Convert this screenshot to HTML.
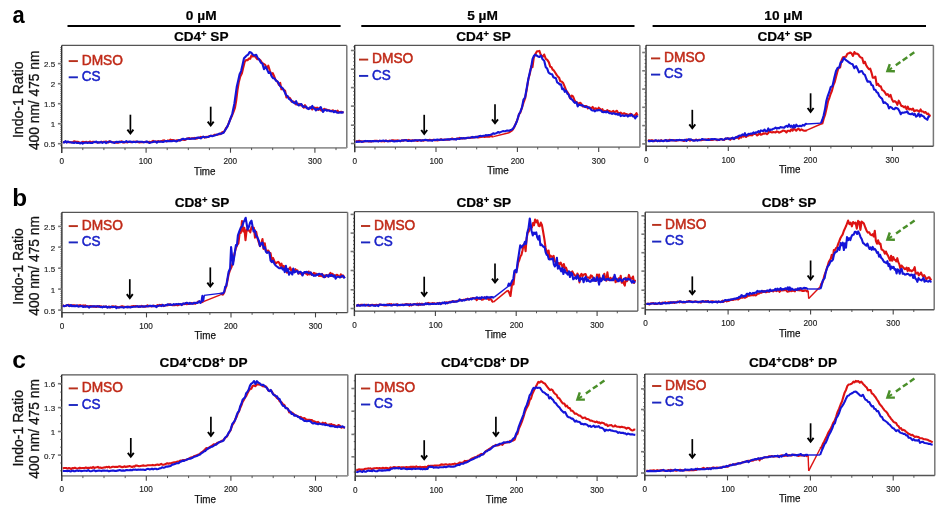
<!DOCTYPE html>
<html><head><meta charset="utf-8"><title>Indo-1 ratio kinetics</title>
<style>html,body{margin:0;padding:0;background:#fff;width:946px;height:513px;overflow:hidden}svg{display:block;will-change:transform}text{font-family:"Liberation Sans",sans-serif}</style>
</head><body>
<svg width="946" height="513" viewBox="0 0 946 513" font-family="Liberation Sans, sans-serif">
<line x1="61.7" y1="45.4" x2="346.8" y2="45.4" stroke="#555" stroke-width="1.3"/>
<line x1="346.8" y1="45.4" x2="346.8" y2="147.9" stroke="#777" stroke-width="1.5"/>
<line x1="61.7" y1="147.9" x2="346.8" y2="147.9" stroke="#959595" stroke-width="1.7"/>
<line x1="61.7" y1="45.4" x2="61.7" y2="152.9" stroke="#1e1e1e" stroke-width="1.3"/>
<line x1="60.3" y1="143.7" x2="61.7" y2="143.7" stroke="#444" stroke-width="0.9"/>
<line x1="60.3" y1="145.7" x2="61.7" y2="145.7" stroke="#444" stroke-width="0.9"/>
<line x1="60.3" y1="141.7" x2="61.7" y2="141.7" stroke="#444" stroke-width="0.9"/>
<line x1="60.3" y1="139.7" x2="61.7" y2="139.7" stroke="#444" stroke-width="0.9"/>
<line x1="60.3" y1="137.7" x2="61.7" y2="137.7" stroke="#444" stroke-width="0.9"/>
<line x1="60.3" y1="135.7" x2="61.7" y2="135.7" stroke="#444" stroke-width="0.9"/>
<line x1="60.3" y1="133.7" x2="61.7" y2="133.7" stroke="#444" stroke-width="0.9"/>
<line x1="60.3" y1="131.7" x2="61.7" y2="131.7" stroke="#444" stroke-width="0.9"/>
<line x1="60.3" y1="129.7" x2="61.7" y2="129.7" stroke="#444" stroke-width="0.9"/>
<line x1="60.3" y1="127.7" x2="61.7" y2="127.7" stroke="#444" stroke-width="0.9"/>
<line x1="60.3" y1="125.7" x2="61.7" y2="125.7" stroke="#444" stroke-width="0.9"/>
<line x1="60.3" y1="123.7" x2="61.7" y2="123.7" stroke="#444" stroke-width="0.9"/>
<line x1="60.3" y1="121.7" x2="61.7" y2="121.7" stroke="#444" stroke-width="0.9"/>
<line x1="60.3" y1="119.7" x2="61.7" y2="119.7" stroke="#444" stroke-width="0.9"/>
<line x1="60.3" y1="117.7" x2="61.7" y2="117.7" stroke="#444" stroke-width="0.9"/>
<line x1="60.3" y1="115.7" x2="61.7" y2="115.7" stroke="#444" stroke-width="0.9"/>
<line x1="60.3" y1="113.7" x2="61.7" y2="113.7" stroke="#444" stroke-width="0.9"/>
<line x1="60.3" y1="111.7" x2="61.7" y2="111.7" stroke="#444" stroke-width="0.9"/>
<line x1="60.3" y1="109.7" x2="61.7" y2="109.7" stroke="#444" stroke-width="0.9"/>
<line x1="60.3" y1="107.7" x2="61.7" y2="107.7" stroke="#444" stroke-width="0.9"/>
<line x1="60.3" y1="105.7" x2="61.7" y2="105.7" stroke="#444" stroke-width="0.9"/>
<line x1="60.3" y1="103.7" x2="61.7" y2="103.7" stroke="#444" stroke-width="0.9"/>
<line x1="60.3" y1="101.7" x2="61.7" y2="101.7" stroke="#444" stroke-width="0.9"/>
<line x1="60.3" y1="99.7" x2="61.7" y2="99.7" stroke="#444" stroke-width="0.9"/>
<line x1="60.3" y1="97.7" x2="61.7" y2="97.7" stroke="#444" stroke-width="0.9"/>
<line x1="60.3" y1="95.7" x2="61.7" y2="95.7" stroke="#444" stroke-width="0.9"/>
<line x1="60.3" y1="93.7" x2="61.7" y2="93.7" stroke="#444" stroke-width="0.9"/>
<line x1="60.3" y1="91.7" x2="61.7" y2="91.7" stroke="#444" stroke-width="0.9"/>
<line x1="60.3" y1="89.7" x2="61.7" y2="89.7" stroke="#444" stroke-width="0.9"/>
<line x1="60.3" y1="87.7" x2="61.7" y2="87.7" stroke="#444" stroke-width="0.9"/>
<line x1="60.3" y1="85.7" x2="61.7" y2="85.7" stroke="#444" stroke-width="0.9"/>
<line x1="60.3" y1="83.7" x2="61.7" y2="83.7" stroke="#444" stroke-width="0.9"/>
<line x1="60.3" y1="81.7" x2="61.7" y2="81.7" stroke="#444" stroke-width="0.9"/>
<line x1="60.3" y1="79.7" x2="61.7" y2="79.7" stroke="#444" stroke-width="0.9"/>
<line x1="60.3" y1="77.7" x2="61.7" y2="77.7" stroke="#444" stroke-width="0.9"/>
<line x1="60.3" y1="75.7" x2="61.7" y2="75.7" stroke="#444" stroke-width="0.9"/>
<line x1="60.3" y1="73.7" x2="61.7" y2="73.7" stroke="#444" stroke-width="0.9"/>
<line x1="60.3" y1="71.7" x2="61.7" y2="71.7" stroke="#444" stroke-width="0.9"/>
<line x1="60.3" y1="69.7" x2="61.7" y2="69.7" stroke="#444" stroke-width="0.9"/>
<line x1="60.3" y1="67.7" x2="61.7" y2="67.7" stroke="#444" stroke-width="0.9"/>
<line x1="60.3" y1="65.7" x2="61.7" y2="65.7" stroke="#444" stroke-width="0.9"/>
<line x1="60.3" y1="63.7" x2="61.7" y2="63.7" stroke="#444" stroke-width="0.9"/>
<line x1="60.3" y1="61.7" x2="61.7" y2="61.7" stroke="#444" stroke-width="0.9"/>
<line x1="60.3" y1="59.7" x2="61.7" y2="59.7" stroke="#444" stroke-width="0.9"/>
<line x1="60.3" y1="57.7" x2="61.7" y2="57.7" stroke="#444" stroke-width="0.9"/>
<line x1="60.3" y1="55.7" x2="61.7" y2="55.7" stroke="#444" stroke-width="0.9"/>
<line x1="60.3" y1="53.7" x2="61.7" y2="53.7" stroke="#444" stroke-width="0.9"/>
<line x1="60.3" y1="51.7" x2="61.7" y2="51.7" stroke="#444" stroke-width="0.9"/>
<line x1="60.3" y1="49.7" x2="61.7" y2="49.7" stroke="#444" stroke-width="0.9"/>
<line x1="60.3" y1="47.7" x2="61.7" y2="47.7" stroke="#444" stroke-width="0.9"/>
<line x1="57.9" y1="143.7" x2="61.7" y2="143.7" stroke="#7a7a7a" stroke-width="1.6"/>
<line x1="57.9" y1="123.7" x2="61.7" y2="123.7" stroke="#7a7a7a" stroke-width="1.6"/>
<line x1="57.9" y1="103.7" x2="61.7" y2="103.7" stroke="#7a7a7a" stroke-width="1.6"/>
<line x1="57.9" y1="83.7" x2="61.7" y2="83.7" stroke="#7a7a7a" stroke-width="1.6"/>
<line x1="57.9" y1="63.6" x2="61.7" y2="63.6" stroke="#7a7a7a" stroke-width="1.6"/>
<text x="55.1" y="147.1" font-size="8.0" text-anchor="end" fill="#222" stroke="#222" stroke-width="0.15">0.5</text>
<text x="55.1" y="127.1" font-size="8.0" text-anchor="end" fill="#222" stroke="#222" stroke-width="0.15">1</text>
<text x="55.1" y="107.1" font-size="8.0" text-anchor="end" fill="#222" stroke="#222" stroke-width="0.15">1.5</text>
<text x="55.1" y="87.1" font-size="8.0" text-anchor="end" fill="#222" stroke="#222" stroke-width="0.15">2</text>
<text x="55.1" y="67.0" font-size="8.0" text-anchor="end" fill="#222" stroke="#222" stroke-width="0.15">2.5</text>
<line x1="61.7" y1="147.9" x2="61.7" y2="152.7" stroke="#444" stroke-width="1.1"/>
<line x1="82.8" y1="147.9" x2="82.8" y2="150.1" stroke="#444" stroke-width="0.9"/>
<line x1="103.9" y1="147.9" x2="103.9" y2="150.1" stroke="#444" stroke-width="0.9"/>
<line x1="125.0" y1="147.9" x2="125.0" y2="150.1" stroke="#444" stroke-width="0.9"/>
<line x1="146.1" y1="147.9" x2="146.1" y2="152.7" stroke="#444" stroke-width="1.1"/>
<line x1="167.2" y1="147.9" x2="167.2" y2="150.1" stroke="#444" stroke-width="0.9"/>
<line x1="188.3" y1="147.9" x2="188.3" y2="150.1" stroke="#444" stroke-width="0.9"/>
<line x1="209.4" y1="147.9" x2="209.4" y2="150.1" stroke="#444" stroke-width="0.9"/>
<line x1="230.5" y1="147.9" x2="230.5" y2="152.7" stroke="#444" stroke-width="1.1"/>
<line x1="251.6" y1="147.9" x2="251.6" y2="150.1" stroke="#444" stroke-width="0.9"/>
<line x1="272.7" y1="147.9" x2="272.7" y2="150.1" stroke="#444" stroke-width="0.9"/>
<line x1="293.8" y1="147.9" x2="293.8" y2="150.1" stroke="#444" stroke-width="0.9"/>
<line x1="314.9" y1="147.9" x2="314.9" y2="152.7" stroke="#444" stroke-width="1.1"/>
<line x1="336.0" y1="147.9" x2="336.0" y2="150.1" stroke="#444" stroke-width="0.9"/>
<text x="61.7" y="164.4" font-size="8.2" text-anchor="middle" fill="#222" stroke="#222" stroke-width="0.15">0</text>
<text x="145.6" y="164.4" font-size="8.2" text-anchor="middle" fill="#222" stroke="#222" stroke-width="0.15">100</text>
<text x="230.3" y="164.4" font-size="8.2" text-anchor="middle" fill="#222" stroke="#222" stroke-width="0.15">200</text>
<text x="314.9" y="164.4" font-size="8.2" text-anchor="middle" fill="#222" stroke="#222" stroke-width="0.15">300</text>
<text x="204.8" y="174.7" font-size="11" textLength="21.5" lengthAdjust="spacingAndGlyphs" text-anchor="middle" fill="#111" stroke="#111" stroke-width="0.25">Time</text>
<line x1="68.7" y1="61.1" x2="77.9" y2="61.1" stroke="#b8301c" stroke-width="1.9"/>
<line x1="68.7" y1="77.3" x2="77.9" y2="77.3" stroke="#1c26c0" stroke-width="1.9"/>
<text x="81.7" y="64.7" font-size="14.4" textLength="41.3" lengthAdjust="spacingAndGlyphs" fill="#c02a18" stroke="#c02a18" stroke-width="0.5">DMSO</text>
<text x="81.7" y="80.9" font-size="14.4" textLength="18.8" lengthAdjust="spacingAndGlyphs" fill="#1a22c8" stroke="#1a22c8" stroke-width="0.5">CS</text>
<path d="M62.9,142.0 64.1,142.2 65.4,141.8 66.6,141.8 67.8,142.2 69.1,142.3 70.3,142.3 71.6,142.3 72.8,142.3 74.0,141.2 75.3,141.6 76.5,141.9 77.7,141.8 79.0,142.3 80.2,142.7 81.5,142.6 82.7,141.8 83.9,142.0 85.2,142.3 86.4,141.8 87.6,142.6 88.9,142.1 90.1,141.5 91.3,142.7 92.6,141.8 93.8,141.7 95.1,142.1 96.3,142.3 97.5,142.5 98.8,142.5 100.0,142.3 101.2,141.8 102.4,142.2 103.6,141.8 104.8,142.0 106.0,141.5 107.2,142.2 108.4,142.5 109.6,141.1 110.8,141.8 112.0,142.3 113.2,142.2 114.4,142.3 115.6,142.6 116.8,142.6 118.0,142.6 119.2,142.4 120.4,141.7 121.6,141.3 122.8,142.4 124.0,142.5 125.2,141.9 126.4,142.2 127.6,142.4 128.8,141.7 130.0,142.0 131.2,142.3 132.4,141.9 133.6,141.8 134.8,141.7 136.0,141.6 137.2,141.7 138.4,142.2 139.6,142.4 140.8,142.1 142.0,142.3 143.2,142.1 144.4,142.0 145.6,141.8 146.8,142.2 148.1,142.2 149.3,141.8 150.6,142.2 151.8,141.8 153.1,140.8 154.3,141.6 155.5,141.6 156.8,141.6 158.0,141.1 159.3,141.6 160.5,141.3 161.8,141.1 163.0,140.5 164.3,140.4 165.5,141.1 166.7,141.4 168.0,140.4 169.2,140.7 170.5,139.6 171.7,140.1 173.0,140.1 174.2,140.4 175.5,140.9 176.7,140.3 178.0,140.2 179.3,140.6 180.5,139.8 181.8,139.6 183.1,139.8 184.3,140.0 185.6,139.7 186.9,138.5 188.1,138.6 189.4,138.1 190.7,138.9 191.9,138.3 193.2,138.2 194.5,137.9 195.7,138.8 197.0,138.5 198.3,137.7 199.5,137.9 200.8,136.9 202.1,137.2 203.3,136.7 204.6,137.6 205.9,136.9 207.1,137.1 208.4,136.5 209.7,136.4 210.9,135.8 212.2,135.8 213.5,135.5 214.7,134.7 216.0,134.9 217.3,134.7 218.5,134.2 219.8,134.3 221.1,133.5 222.3,132.1 223.6,132.4 224.9,130.5 226.1,128.0 227.4,126.6 229.0,122.3 230.6,118.7 232.2,115.2 233.6,111.7 235.0,107.6 236.2,100.6 237.5,90.0 238.9,81.7 240.3,76.5 241.9,73.2 243.4,67.0 244.7,61.8 246.0,60.0 247.5,60.2 249.0,58.5 250.2,58.8 251.5,55.4 252.7,56.5 254.3,55.8 255.8,57.4 257.4,59.3 259.0,58.9 260.5,60.4 262.1,63.0 263.7,63.9 265.2,64.8 266.8,68.5 268.3,65.7 269.9,70.9 271.4,74.8 272.7,73.0 273.9,75.6 275.2,79.2 276.4,80.6 277.7,82.0 278.9,84.8 280.2,82.9 281.4,89.3 282.7,88.4 283.9,90.2 285.1,90.8 286.4,97.4 287.6,96.3 288.9,97.6 290.1,98.2 291.7,101.7 293.2,101.5 294.8,102.5 296.1,104.5 297.4,103.9 298.7,103.8 300.0,105.3 301.3,104.4 302.6,106.0 303.8,107.7 305.0,105.1 306.2,107.7 307.4,108.1 308.7,108.2 309.9,108.1 311.1,107.0 312.3,109.5 313.5,107.8 314.7,107.5 315.9,108.4 317.1,107.6 318.3,109.9 319.5,107.8 320.7,110.2 321.9,110.6 323.1,110.0 324.3,108.8 325.5,110.0 326.7,109.5 327.9,110.3 329.1,110.3 330.3,110.7 331.5,111.2 332.7,110.3 333.9,110.9 335.1,111.2 336.4,111.5 337.6,110.7 338.8,112.5 340.0,112.0 341.2,111.7 342.4,112.2 343.6,112.6" fill="none" stroke="#dd1212" stroke-width="2.1" stroke-linejoin="round"/>
<path d="M62.9,142.3 64.1,142.5 65.4,141.1 66.6,142.6 67.8,141.5 69.1,142.2 70.3,142.2 71.6,142.6 72.8,142.6 74.0,143.0 75.3,142.3 76.5,142.9 77.7,142.9 79.0,142.9 80.2,143.5 81.5,142.6 82.7,143.6 83.9,142.9 85.2,142.6 86.4,142.5 87.6,142.9 88.9,142.6 90.1,142.9 91.3,142.7 92.6,142.9 93.8,142.2 95.1,141.9 96.3,141.6 97.5,142.6 98.8,142.4 100.0,142.5 101.2,141.9 102.4,142.9 103.6,142.4 104.8,141.9 106.0,143.1 107.2,142.4 108.4,141.8 109.6,141.8 110.8,141.6 112.0,142.3 113.2,142.6 114.4,142.9 115.6,142.1 116.8,141.7 118.0,142.2 119.2,141.6 120.4,142.1 121.6,142.0 122.8,141.8 124.0,142.3 125.2,141.9 126.4,141.1 127.6,142.0 128.8,141.9 130.0,141.4 131.2,141.8 132.4,142.3 133.6,141.7 134.8,142.0 136.0,142.2 137.2,141.5 138.4,141.7 139.6,141.8 140.8,141.8 142.0,141.8 143.2,142.1 144.4,142.3 145.6,142.0 146.8,141.4 148.1,142.2 149.3,143.0 150.6,142.5 151.8,142.3 153.1,141.9 154.3,141.5 155.5,141.5 156.8,142.6 158.0,141.6 159.3,141.7 160.5,141.5 161.8,141.7 163.0,141.9 164.3,141.4 165.5,141.1 166.7,141.1 168.0,141.1 169.2,141.3 170.5,141.1 171.7,141.2 173.0,140.9 174.2,140.6 175.5,141.2 176.7,141.4 178.0,140.6 179.3,140.1 180.5,140.4 181.8,139.3 183.1,138.8 184.3,139.3 185.6,139.2 186.9,138.8 188.1,138.5 189.4,139.0 190.7,138.7 191.9,138.6 193.2,138.5 194.5,138.8 195.7,138.1 197.0,137.7 198.3,137.6 199.5,137.8 200.8,138.4 202.1,137.3 203.3,136.8 204.6,137.3 205.9,137.3 207.1,137.0 208.4,137.0 209.7,136.0 210.9,135.8 212.2,136.2 213.5,135.8 214.7,135.4 216.0,135.1 217.3,134.6 218.5,134.1 219.8,133.6 221.1,133.7 222.3,133.2 223.6,132.8 224.9,130.5 226.1,128.6 227.4,126.4 229.0,122.9 230.6,118.2 232.2,114.0 234.4,103.5 236.7,87.1 238.1,81.0 239.6,74.2 241.1,71.1 242.5,64.9 244.0,58.3 245.5,56.7 246.9,55.3 248.2,54.6 249.6,52.0 251.3,52.8 253.1,54.9 254.6,55.5 256.2,54.8 257.7,57.9 259.3,59.7 260.8,62.6 262.4,63.7 264.0,69.2 265.5,66.7 267.1,69.6 268.7,73.0 270.2,72.3 271.8,76.6 273.2,78.2 274.6,78.5 276.0,80.7 277.4,81.4 278.8,83.6 280.2,86.4 281.7,87.3 283.2,89.2 284.6,91.8 286.0,95.0 287.4,96.1 288.7,98.6 290.1,99.6 291.7,100.9 293.2,102.4 294.8,103.5 296.1,101.2 297.4,104.4 298.7,105.5 300.0,104.3 301.3,104.1 302.6,106.6 303.8,106.4 305.0,106.7 306.2,106.6 307.4,108.6 308.7,109.1 309.9,107.4 311.1,108.4 312.3,105.9 313.5,108.1 314.7,108.7 315.9,110.5 317.1,108.9 318.3,109.4 319.5,108.7 320.7,107.0 321.9,109.6 323.1,111.9 324.3,110.1 325.5,109.6 326.7,110.7 327.9,110.4 329.1,110.5 330.3,111.3 331.5,110.9 332.7,111.2 333.9,112.2 335.1,110.9 336.4,112.2 337.6,112.8 338.8,112.6 340.0,112.2 341.2,112.7 342.4,112.2 343.6,112.8" fill="none" stroke="#1414d8" stroke-width="2.1" stroke-linejoin="round"/>
<line x1="130.4" y1="114.7" x2="130.4" y2="133.1" stroke="#000" stroke-width="1.7"/>
<path d="M127.4,129.6 L130.4,133.5 L133.4,129.6" fill="none" stroke="#000" stroke-width="1.9" stroke-linejoin="miter" stroke-miterlimit="6"/>
<line x1="210.7" y1="106.7" x2="210.7" y2="125.1" stroke="#000" stroke-width="1.7"/>
<path d="M207.7,121.6 L210.7,125.5 L213.7,121.6" fill="none" stroke="#000" stroke-width="1.9" stroke-linejoin="miter" stroke-miterlimit="6"/>
<line x1="354.7" y1="45.3" x2="639.9" y2="45.3" stroke="#555" stroke-width="1.3"/>
<line x1="639.9" y1="45.3" x2="639.9" y2="147.2" stroke="#777" stroke-width="1.5"/>
<line x1="354.7" y1="147.2" x2="639.9" y2="147.2" stroke="#8a8a8a" stroke-width="1.7"/>
<line x1="354.7" y1="45.3" x2="354.7" y2="152.2" stroke="#1e1e1e" stroke-width="1.3"/>
<line x1="353.3" y1="143.5" x2="354.7" y2="143.5" stroke="#444" stroke-width="0.9"/>
<line x1="353.3" y1="139.8" x2="354.7" y2="139.8" stroke="#444" stroke-width="0.9"/>
<line x1="353.3" y1="136.1" x2="354.7" y2="136.1" stroke="#444" stroke-width="0.9"/>
<line x1="353.3" y1="132.3" x2="354.7" y2="132.3" stroke="#444" stroke-width="0.9"/>
<line x1="353.3" y1="128.6" x2="354.7" y2="128.6" stroke="#444" stroke-width="0.9"/>
<line x1="353.3" y1="124.9" x2="354.7" y2="124.9" stroke="#444" stroke-width="0.9"/>
<line x1="353.3" y1="121.2" x2="354.7" y2="121.2" stroke="#444" stroke-width="0.9"/>
<line x1="353.3" y1="117.5" x2="354.7" y2="117.5" stroke="#444" stroke-width="0.9"/>
<line x1="353.3" y1="113.7" x2="354.7" y2="113.7" stroke="#444" stroke-width="0.9"/>
<line x1="353.3" y1="110.0" x2="354.7" y2="110.0" stroke="#444" stroke-width="0.9"/>
<line x1="353.3" y1="106.3" x2="354.7" y2="106.3" stroke="#444" stroke-width="0.9"/>
<line x1="353.3" y1="102.6" x2="354.7" y2="102.6" stroke="#444" stroke-width="0.9"/>
<line x1="353.3" y1="98.9" x2="354.7" y2="98.9" stroke="#444" stroke-width="0.9"/>
<line x1="353.3" y1="95.1" x2="354.7" y2="95.1" stroke="#444" stroke-width="0.9"/>
<line x1="353.3" y1="91.4" x2="354.7" y2="91.4" stroke="#444" stroke-width="0.9"/>
<line x1="353.3" y1="87.7" x2="354.7" y2="87.7" stroke="#444" stroke-width="0.9"/>
<line x1="353.3" y1="84.0" x2="354.7" y2="84.0" stroke="#444" stroke-width="0.9"/>
<line x1="353.3" y1="80.3" x2="354.7" y2="80.3" stroke="#444" stroke-width="0.9"/>
<line x1="353.3" y1="76.5" x2="354.7" y2="76.5" stroke="#444" stroke-width="0.9"/>
<line x1="353.3" y1="72.8" x2="354.7" y2="72.8" stroke="#444" stroke-width="0.9"/>
<line x1="353.3" y1="69.1" x2="354.7" y2="69.1" stroke="#444" stroke-width="0.9"/>
<line x1="353.3" y1="65.4" x2="354.7" y2="65.4" stroke="#444" stroke-width="0.9"/>
<line x1="353.3" y1="61.7" x2="354.7" y2="61.7" stroke="#444" stroke-width="0.9"/>
<line x1="353.3" y1="57.9" x2="354.7" y2="57.9" stroke="#444" stroke-width="0.9"/>
<line x1="353.3" y1="54.2" x2="354.7" y2="54.2" stroke="#444" stroke-width="0.9"/>
<line x1="353.3" y1="50.5" x2="354.7" y2="50.5" stroke="#444" stroke-width="0.9"/>
<line x1="353.3" y1="46.8" x2="354.7" y2="46.8" stroke="#444" stroke-width="0.9"/>
<line x1="350.9" y1="143.5" x2="354.7" y2="143.5" stroke="#7a7a7a" stroke-width="1.6"/>
<line x1="350.9" y1="125.2" x2="354.7" y2="125.2" stroke="#7a7a7a" stroke-width="1.6"/>
<line x1="350.9" y1="106.1" x2="354.7" y2="106.1" stroke="#7a7a7a" stroke-width="1.6"/>
<line x1="350.9" y1="87.6" x2="354.7" y2="87.6" stroke="#7a7a7a" stroke-width="1.6"/>
<line x1="350.9" y1="69.2" x2="354.7" y2="69.2" stroke="#7a7a7a" stroke-width="1.6"/>
<line x1="350.9" y1="50.5" x2="354.7" y2="50.5" stroke="#7a7a7a" stroke-width="1.6"/>
<line x1="354.7" y1="147.2" x2="354.7" y2="152.0" stroke="#444" stroke-width="1.1"/>
<line x1="375.0" y1="147.2" x2="375.0" y2="149.4" stroke="#444" stroke-width="0.9"/>
<line x1="395.4" y1="147.2" x2="395.4" y2="149.4" stroke="#444" stroke-width="0.9"/>
<line x1="415.7" y1="147.2" x2="415.7" y2="149.4" stroke="#444" stroke-width="0.9"/>
<line x1="436.0" y1="147.2" x2="436.0" y2="152.0" stroke="#444" stroke-width="1.1"/>
<line x1="456.4" y1="147.2" x2="456.4" y2="149.4" stroke="#444" stroke-width="0.9"/>
<line x1="476.7" y1="147.2" x2="476.7" y2="149.4" stroke="#444" stroke-width="0.9"/>
<line x1="497.0" y1="147.2" x2="497.0" y2="149.4" stroke="#444" stroke-width="0.9"/>
<line x1="517.4" y1="147.2" x2="517.4" y2="152.0" stroke="#444" stroke-width="1.1"/>
<line x1="537.7" y1="147.2" x2="537.7" y2="149.4" stroke="#444" stroke-width="0.9"/>
<line x1="558.0" y1="147.2" x2="558.0" y2="149.4" stroke="#444" stroke-width="0.9"/>
<line x1="578.4" y1="147.2" x2="578.4" y2="149.4" stroke="#444" stroke-width="0.9"/>
<line x1="598.7" y1="147.2" x2="598.7" y2="152.0" stroke="#444" stroke-width="1.1"/>
<line x1="619.0" y1="147.2" x2="619.0" y2="149.4" stroke="#444" stroke-width="0.9"/>
<text x="354.7" y="163.7" font-size="8.2" text-anchor="middle" fill="#222" stroke="#222" stroke-width="0.15">0</text>
<text x="436.3" y="163.7" font-size="8.2" text-anchor="middle" fill="#222" stroke="#222" stroke-width="0.15">100</text>
<text x="517.5" y="163.7" font-size="8.2" text-anchor="middle" fill="#222" stroke="#222" stroke-width="0.15">200</text>
<text x="598.7" y="163.7" font-size="8.2" text-anchor="middle" fill="#222" stroke="#222" stroke-width="0.15">300</text>
<text x="497.9" y="174.0" font-size="11" textLength="21.5" lengthAdjust="spacingAndGlyphs" text-anchor="middle" fill="#111" stroke="#111" stroke-width="0.25">Time</text>
<line x1="359.0" y1="59.6" x2="368.2" y2="59.6" stroke="#b8301c" stroke-width="1.9"/>
<line x1="359.0" y1="75.9" x2="368.2" y2="75.9" stroke="#1c26c0" stroke-width="1.9"/>
<text x="372.0" y="63.2" font-size="14.4" textLength="41.3" lengthAdjust="spacingAndGlyphs" fill="#c02a18" stroke="#c02a18" stroke-width="0.5">DMSO</text>
<text x="372.0" y="79.5" font-size="14.4" textLength="18.8" lengthAdjust="spacingAndGlyphs" fill="#1a22c8" stroke="#1a22c8" stroke-width="0.5">CS</text>
<line x1="493.4" y1="136.6" x2="509.0" y2="132.7" stroke="#dd1212" stroke-width="1.4"/>
<path d="M355.6,141.3 356.8,141.3 358.0,141.2 359.2,140.7 360.4,141.4 361.6,141.2 362.9,141.7 364.1,141.4 365.3,141.3 366.5,141.2 367.7,141.3 368.9,141.6 370.1,141.3 371.3,141.4 372.5,141.3 373.7,141.1 374.9,140.7 376.1,140.7 377.4,140.9 378.6,141.2 379.8,140.8 381.0,141.4 382.2,141.0 383.4,141.1 384.6,141.5 385.8,140.5 387.0,141.1 388.2,141.2 389.4,140.6 390.6,141.2 391.9,140.4 393.1,140.2 394.3,140.5 395.5,140.5 396.7,140.5 397.9,140.4 399.1,140.8 400.3,141.1 401.5,140.4 402.7,140.8 403.9,140.3 405.1,140.0 406.4,140.4 407.6,140.3 408.8,139.9 410.0,140.5 411.2,140.6 412.4,140.4 413.6,140.5 414.9,140.4 416.1,140.3 417.4,141.0 418.6,140.4 419.9,140.1 421.1,140.5 422.4,140.4 423.6,140.6 424.8,140.0 426.1,140.2 427.3,140.0 428.6,140.3 429.8,139.8 431.1,140.2 432.3,140.2 433.5,139.8 434.8,140.4 436.0,140.0 437.3,140.4 438.5,140.1 439.8,139.9 441.0,139.2 442.3,140.0 443.5,139.8 444.7,139.5 446.0,139.8 447.2,139.7 448.5,139.6 449.7,139.2 451.0,139.2 452.2,138.5 453.5,139.2 454.7,139.1 456.0,139.0 457.2,138.4 458.5,138.7 459.7,137.8 461.0,138.6 462.2,138.3 463.5,138.4 464.7,138.2 466.0,138.1 467.2,138.0 468.5,137.8 469.7,138.0 471.0,137.5 472.2,137.8 473.5,137.3 474.7,137.3 475.9,137.4 477.2,136.5 478.4,137.4 479.7,137.1 480.9,137.0 482.2,136.8 483.4,136.7 484.7,136.9 485.9,136.8 487.2,136.6 488.4,136.7 489.7,136.6 490.9,136.0 492.2,136.5 493.4,136.6 M509.0,132.7 510.3,131.5 511.6,130.9 512.9,129.5 514.1,127.5 515.3,124.6 516.5,122.0 517.8,118.5 519.1,114.1 520.4,112.5 522.0,107.6 523.5,102.7 525.1,98.5 526.7,89.8 528.3,79.6 529.9,73.5 531.2,66.2 532.5,67.1 533.8,57.5 535.4,54.0 537.0,51.3 538.2,51.2 539.4,50.9 540.6,54.4 541.8,56.2 543.0,56.6 544.2,54.5 545.8,58.8 547.3,59.9 548.9,62.4 550.2,66.6 551.5,67.2 552.7,69.7 554.0,70.7 555.3,72.7 556.6,74.9 557.8,76.4 559.1,77.7 560.3,81.3 561.6,81.5 563.2,83.1 564.8,86.8 566.4,91.0 567.7,92.4 569.0,94.7 570.3,98.5 571.7,95.5 573.0,96.4 574.3,99.7 575.5,101.8 576.8,102.2 578.0,103.8 579.2,103.1 580.5,102.8 581.7,104.4 582.9,106.5 584.2,106.0 585.4,106.0 586.6,106.3 587.8,108.4 589.0,107.2 590.2,107.8 591.5,108.1 592.7,106.9 593.9,109.4 595.1,108.4 596.3,108.6 597.5,109.7 598.7,107.7 599.9,108.7 601.2,110.2 602.4,109.2 603.6,111.5 604.8,110.9 606.0,111.6 607.2,110.1 608.4,111.1 609.6,111.1 610.9,111.9 612.1,111.8 613.3,110.9 614.5,112.5 615.7,111.4 616.9,110.8 618.2,113.3 619.4,113.1 620.6,112.6 621.8,113.8 623.0,113.8 624.2,113.2 625.5,114.2 626.7,114.1 627.9,114.7 629.1,114.9 630.4,113.7 631.6,114.2 632.8,116.2 634.0,115.5 635.3,114.8 636.5,113.2 637.7,115.6" fill="none" stroke="#dd1212" stroke-width="2.1" stroke-linejoin="round"/>
<path d="M355.6,141.4 356.8,142.0 358.0,141.5 359.2,141.9 360.4,141.4 361.6,141.9 362.9,141.5 364.1,141.2 365.3,140.9 366.5,141.3 367.7,141.0 368.9,141.2 370.1,141.0 371.3,141.4 372.5,141.1 373.7,141.1 374.9,141.2 376.1,141.1 377.4,141.3 378.6,141.4 379.8,140.8 381.0,141.0 382.2,140.8 383.4,140.6 384.6,141.0 385.8,140.7 387.0,141.1 388.2,141.2 389.4,141.3 390.6,140.8 391.9,140.8 393.1,141.2 394.3,141.4 395.5,141.3 396.7,141.0 397.9,141.1 399.1,140.6 400.3,141.3 401.5,140.5 402.7,140.4 403.9,140.6 405.1,140.2 406.4,140.1 407.6,141.0 408.8,140.9 410.0,140.6 411.2,141.1 412.4,140.5 413.6,140.6 414.9,140.4 416.1,140.2 417.4,140.3 418.6,140.2 419.9,140.3 421.1,140.8 422.4,140.3 423.6,140.2 424.8,139.9 426.1,139.9 427.3,140.4 428.6,140.4 429.8,140.5 431.1,140.3 432.3,140.8 433.5,140.0 434.8,139.9 436.0,140.0 437.3,139.5 438.5,139.7 439.8,140.0 441.0,139.6 442.3,139.7 443.5,139.9 444.7,139.8 446.0,139.5 447.2,139.4 448.5,139.4 449.7,139.6 451.0,139.0 452.2,139.3 453.5,139.3 454.7,139.1 456.0,139.6 457.2,138.7 458.5,138.7 459.7,139.0 461.0,138.0 462.2,138.4 463.5,138.1 464.7,138.4 466.0,138.2 467.2,137.7 468.5,137.8 469.7,137.7 471.0,137.4 472.2,136.9 473.5,137.4 474.7,137.4 475.9,136.7 477.2,137.4 478.4,136.5 479.6,136.0 480.9,135.9 482.1,136.2 483.3,135.8 484.6,135.8 485.8,135.0 487.0,135.6 488.3,135.1 489.5,135.1 490.7,134.8 491.9,134.2 493.2,133.3 494.4,133.9 495.6,133.4 496.8,133.1 498.0,132.0 499.2,132.7 500.5,132.1 501.7,131.6 502.9,131.1 504.1,131.3 505.3,131.2 506.6,130.6 507.8,130.6 509.0,130.8 510.3,130.1 511.6,129.7 512.9,128.8 514.2,126.7 515.6,124.3 517.2,120.3 518.8,114.8 520.4,111.6 522.0,107.3 523.5,99.5 525.1,97.3 526.7,88.3 528.3,79.2 529.9,72.0 531.2,67.2 532.5,59.1 533.8,56.1 535.2,54.8 536.6,55.5 538.0,56.4 539.4,56.9 541.0,55.5 542.6,59.3 544.2,60.7 545.7,67.0 547.3,68.8 548.5,72.4 549.7,73.5 550.9,74.0 552.1,74.3 553.4,77.2 554.6,77.7 555.9,78.3 557.1,82.3 558.4,83.1 559.7,84.4 561.0,84.2 562.2,89.3 563.5,88.7 564.8,91.8 566.1,90.5 567.3,93.7 568.6,94.6 569.8,97.6 571.1,98.9 572.4,99.9 573.7,101.7 575.0,102.9 576.4,102.1 577.7,106.4 579.0,104.5 580.2,105.1 581.5,105.4 582.7,105.2 583.9,106.3 585.2,107.1 586.4,106.6 587.6,107.0 588.9,107.8 590.1,108.4 591.3,109.9 592.5,110.5 593.8,110.5 595.0,111.3 596.2,110.3 597.4,110.5 598.7,110.1 599.9,110.3 601.1,110.5 602.3,112.0 603.6,112.3 604.8,111.8 606.0,112.4 607.2,111.4 608.4,112.5 609.6,113.3 610.9,113.2 612.1,114.0 613.3,113.2 614.5,113.6 615.7,114.3 616.9,113.8 618.2,114.8 619.4,113.7 620.6,116.1 621.8,115.6 623.0,115.3 624.2,116.0 625.5,115.5 626.7,115.3 627.9,116.6 629.1,115.3 630.4,115.8 631.6,114.6 632.8,116.2 634.0,116.5 635.3,118.4 636.5,116.0 637.7,117.1" fill="none" stroke="#1414d8" stroke-width="2.1" stroke-linejoin="round"/>
<line x1="424.2" y1="114.8" x2="424.2" y2="133.5" stroke="#000" stroke-width="1.7"/>
<path d="M421.2,130.0 L424.2,133.9 L427.2,130.0" fill="none" stroke="#000" stroke-width="1.9" stroke-linejoin="miter" stroke-miterlimit="6"/>
<line x1="495.0" y1="104.3" x2="495.0" y2="122.9" stroke="#000" stroke-width="1.7"/>
<path d="M492.0,119.4 L495.0,123.3 L498.0,119.4" fill="none" stroke="#000" stroke-width="1.9" stroke-linejoin="miter" stroke-miterlimit="6"/>
<line x1="646.0" y1="45.3" x2="933.4" y2="45.3" stroke="#555" stroke-width="1.3"/>
<line x1="933.4" y1="45.3" x2="933.4" y2="146.3" stroke="#777" stroke-width="1.5"/>
<line x1="646.0" y1="146.3" x2="933.4" y2="146.3" stroke="#505050" stroke-width="1.4"/>
<line x1="646.0" y1="45.3" x2="646.0" y2="151.3" stroke="#1e1e1e" stroke-width="1.3"/>
<line x1="644.6" y1="143.9" x2="646.0" y2="143.9" stroke="#444" stroke-width="0.9"/>
<line x1="644.6" y1="140.2" x2="646.0" y2="140.2" stroke="#444" stroke-width="0.9"/>
<line x1="644.6" y1="136.6" x2="646.0" y2="136.6" stroke="#444" stroke-width="0.9"/>
<line x1="644.6" y1="132.9" x2="646.0" y2="132.9" stroke="#444" stroke-width="0.9"/>
<line x1="644.6" y1="129.3" x2="646.0" y2="129.3" stroke="#444" stroke-width="0.9"/>
<line x1="644.6" y1="125.6" x2="646.0" y2="125.6" stroke="#444" stroke-width="0.9"/>
<line x1="644.6" y1="121.9" x2="646.0" y2="121.9" stroke="#444" stroke-width="0.9"/>
<line x1="644.6" y1="118.3" x2="646.0" y2="118.3" stroke="#444" stroke-width="0.9"/>
<line x1="644.6" y1="114.6" x2="646.0" y2="114.6" stroke="#444" stroke-width="0.9"/>
<line x1="644.6" y1="111.0" x2="646.0" y2="111.0" stroke="#444" stroke-width="0.9"/>
<line x1="644.6" y1="107.3" x2="646.0" y2="107.3" stroke="#444" stroke-width="0.9"/>
<line x1="644.6" y1="103.6" x2="646.0" y2="103.6" stroke="#444" stroke-width="0.9"/>
<line x1="644.6" y1="100.0" x2="646.0" y2="100.0" stroke="#444" stroke-width="0.9"/>
<line x1="644.6" y1="96.3" x2="646.0" y2="96.3" stroke="#444" stroke-width="0.9"/>
<line x1="644.6" y1="92.7" x2="646.0" y2="92.7" stroke="#444" stroke-width="0.9"/>
<line x1="644.6" y1="89.0" x2="646.0" y2="89.0" stroke="#444" stroke-width="0.9"/>
<line x1="644.6" y1="85.3" x2="646.0" y2="85.3" stroke="#444" stroke-width="0.9"/>
<line x1="644.6" y1="81.7" x2="646.0" y2="81.7" stroke="#444" stroke-width="0.9"/>
<line x1="644.6" y1="78.0" x2="646.0" y2="78.0" stroke="#444" stroke-width="0.9"/>
<line x1="644.6" y1="74.4" x2="646.0" y2="74.4" stroke="#444" stroke-width="0.9"/>
<line x1="644.6" y1="70.7" x2="646.0" y2="70.7" stroke="#444" stroke-width="0.9"/>
<line x1="644.6" y1="67.0" x2="646.0" y2="67.0" stroke="#444" stroke-width="0.9"/>
<line x1="644.6" y1="63.4" x2="646.0" y2="63.4" stroke="#444" stroke-width="0.9"/>
<line x1="644.6" y1="59.7" x2="646.0" y2="59.7" stroke="#444" stroke-width="0.9"/>
<line x1="644.6" y1="56.1" x2="646.0" y2="56.1" stroke="#444" stroke-width="0.9"/>
<line x1="644.6" y1="52.4" x2="646.0" y2="52.4" stroke="#444" stroke-width="0.9"/>
<line x1="644.6" y1="48.7" x2="646.0" y2="48.7" stroke="#444" stroke-width="0.9"/>
<line x1="642.2" y1="143.9" x2="646.0" y2="143.9" stroke="#7a7a7a" stroke-width="1.6"/>
<line x1="642.2" y1="125.6" x2="646.0" y2="125.6" stroke="#7a7a7a" stroke-width="1.6"/>
<line x1="642.2" y1="107.3" x2="646.0" y2="107.3" stroke="#7a7a7a" stroke-width="1.6"/>
<line x1="642.2" y1="89.1" x2="646.0" y2="89.1" stroke="#7a7a7a" stroke-width="1.6"/>
<line x1="642.2" y1="70.8" x2="646.0" y2="70.8" stroke="#7a7a7a" stroke-width="1.6"/>
<line x1="642.2" y1="52.5" x2="646.0" y2="52.5" stroke="#7a7a7a" stroke-width="1.6"/>
<line x1="646.3" y1="146.3" x2="646.3" y2="151.1" stroke="#444" stroke-width="1.1"/>
<line x1="666.8" y1="146.3" x2="666.8" y2="148.5" stroke="#444" stroke-width="0.9"/>
<line x1="687.3" y1="146.3" x2="687.3" y2="148.5" stroke="#444" stroke-width="0.9"/>
<line x1="707.8" y1="146.3" x2="707.8" y2="148.5" stroke="#444" stroke-width="0.9"/>
<line x1="728.3" y1="146.3" x2="728.3" y2="151.1" stroke="#444" stroke-width="1.1"/>
<line x1="748.8" y1="146.3" x2="748.8" y2="148.5" stroke="#444" stroke-width="0.9"/>
<line x1="769.3" y1="146.3" x2="769.3" y2="148.5" stroke="#444" stroke-width="0.9"/>
<line x1="789.9" y1="146.3" x2="789.9" y2="148.5" stroke="#444" stroke-width="0.9"/>
<line x1="810.4" y1="146.3" x2="810.4" y2="151.1" stroke="#444" stroke-width="1.1"/>
<line x1="830.9" y1="146.3" x2="830.9" y2="148.5" stroke="#444" stroke-width="0.9"/>
<line x1="851.4" y1="146.3" x2="851.4" y2="148.5" stroke="#444" stroke-width="0.9"/>
<line x1="871.9" y1="146.3" x2="871.9" y2="148.5" stroke="#444" stroke-width="0.9"/>
<line x1="892.4" y1="146.3" x2="892.4" y2="151.1" stroke="#444" stroke-width="1.1"/>
<line x1="912.9" y1="146.3" x2="912.9" y2="148.5" stroke="#444" stroke-width="0.9"/>
<text x="646.3" y="162.8" font-size="8.2" text-anchor="middle" fill="#222" stroke="#222" stroke-width="0.15">0</text>
<text x="728.3" y="162.8" font-size="8.2" text-anchor="middle" fill="#222" stroke="#222" stroke-width="0.15">100</text>
<text x="810.4" y="162.8" font-size="8.2" text-anchor="middle" fill="#222" stroke="#222" stroke-width="0.15">200</text>
<text x="892.4" y="162.8" font-size="8.2" text-anchor="middle" fill="#222" stroke="#222" stroke-width="0.15">300</text>
<text x="789.7" y="173.1" font-size="11" textLength="21.5" lengthAdjust="spacingAndGlyphs" text-anchor="middle" fill="#111" stroke="#111" stroke-width="0.25">Time</text>
<line x1="651.0" y1="58.4" x2="660.2" y2="58.4" stroke="#b8301c" stroke-width="1.9"/>
<line x1="651.0" y1="74.6" x2="660.2" y2="74.6" stroke="#1c26c0" stroke-width="1.9"/>
<text x="664.0" y="62.0" font-size="14.4" textLength="41.3" lengthAdjust="spacingAndGlyphs" fill="#c02a18" stroke="#c02a18" stroke-width="0.5">DMSO</text>
<text x="664.0" y="78.2" font-size="14.4" textLength="18.8" lengthAdjust="spacingAndGlyphs" fill="#1a22c8" stroke="#1a22c8" stroke-width="0.5">CS</text>
<line x1="807" y1="130.1" x2="821" y2="124.0" stroke="#dd1212" stroke-width="1.4"/>
<path d="M647.9,141.0 649.1,140.2 650.3,140.5 651.5,140.3 652.7,140.2 653.9,141.2 655.1,140.6 656.3,140.7 657.5,140.9 658.7,140.6 659.9,141.2 661.1,140.2 662.3,141.0 663.5,140.7 664.7,140.6 665.9,140.3 667.1,140.3 668.4,141.0 669.6,139.8 670.8,140.3 672.0,140.4 673.2,140.1 674.4,140.3 675.6,140.7 676.8,140.6 678.0,140.3 679.2,140.1 680.4,140.2 681.6,140.1 682.8,140.5 684.0,141.0 685.2,140.4 686.4,139.6 687.6,140.0 688.8,139.8 690.0,140.6 691.3,139.8 692.5,140.2 693.7,140.3 694.9,140.4 696.1,139.6 697.4,140.4 698.6,139.9 699.8,139.9 701.0,140.4 702.2,139.9 703.5,139.8 704.7,139.7 705.9,139.5 707.1,140.0 708.3,139.0 709.5,139.4 710.8,140.0 712.0,140.0 713.2,139.8 714.4,139.1 715.6,139.4 716.9,140.2 718.1,139.7 719.3,139.9 720.5,139.1 721.7,139.3 722.9,139.7 724.2,140.0 725.4,138.6 726.6,138.9 727.8,138.3 729.0,138.6 730.2,139.8 731.5,138.1 732.7,138.5 733.9,139.0 735.1,138.2 736.3,137.9 737.5,136.5 738.8,138.6 740.0,136.7 741.2,137.6 742.4,135.7 743.7,136.6 744.9,135.4 746.1,137.0 747.3,135.4 748.6,135.6 749.8,135.1 751.0,135.1 752.2,135.4 753.5,134.0 754.7,134.0 755.9,134.0 757.2,135.5 758.4,134.7 759.6,132.9 760.9,134.8 762.1,134.3 763.3,133.4 764.6,133.6 765.8,133.2 767.0,134.2 768.3,133.0 769.5,130.7 770.7,132.1 772.0,132.4 773.2,132.0 774.4,132.2 775.6,132.4 776.8,131.4 778.0,131.7 779.2,132.7 780.5,132.0 781.7,131.5 782.9,130.6 784.1,130.8 785.3,131.2 786.5,132.5 787.7,130.7 788.9,130.7 790.1,131.3 791.3,129.3 792.6,130.7 793.8,128.8 795.0,129.6 796.2,130.7 797.4,129.3 798.6,128.6 800.0,130.5 801.4,129.3 802.8,130.2 804.2,130.7 805.6,130.8 807.0,130.1 M821.0,124.0 822.4,123.4 823.7,118.7 825.2,114.3 826.6,108.3 828.1,101.1 829.4,97.8 830.7,93.8 832.0,90.5 833.3,85.4 834.6,82.4 836.0,77.1 837.3,71.9 838.6,67.8 840.1,67.5 841.5,60.5 843.0,57.3 844.5,56.9 845.9,56.7 847.4,53.8 848.8,53.3 850.2,52.5 851.6,53.4 853.0,55.9 854.4,52.0 855.7,53.8 857.0,53.6 858.3,54.4 859.6,56.4 860.9,57.6 862.2,58.0 863.6,63.2 864.9,61.7 866.2,65.3 867.5,67.4 868.9,69.2 870.2,68.7 871.5,72.6 872.8,77.8 874.1,77.7 875.4,76.6 876.7,85.0 878.0,83.8 879.4,86.1 880.7,86.2 882.1,90.0 883.5,90.6 884.9,92.4 886.3,94.8 887.7,94.1 889.1,96.6 890.5,94.9 891.9,99.3 893.3,101.7 894.7,101.1 896.0,102.1 897.4,104.8 898.7,100.7 900.0,103.1 901.3,105.9 902.6,106.1 904.0,107.3 905.3,106.4 906.6,109.2 907.8,106.6 909.1,109.4 910.4,108.9 911.7,109.7 912.9,108.5 914.2,111.3 915.5,110.5 916.8,110.3 918.0,110.8 919.3,111.7 920.6,109.4 921.8,111.5 923.1,111.5 924.4,112.7 925.6,112.0 926.9,114.0 928.2,113.6 929.4,115.8 930.7,115.2" fill="none" stroke="#dd1212" stroke-width="2.1" stroke-linejoin="round"/>
<line x1="807" y1="124.0" x2="821" y2="123.1" stroke="#1414d8" stroke-width="1.4"/>
<path d="M647.9,140.9 649.1,141.1 650.3,141.1 651.5,140.8 652.7,141.3 653.9,141.0 655.1,140.4 656.3,140.4 657.5,141.2 658.7,140.6 659.9,141.0 661.1,140.6 662.3,140.9 663.5,141.1 664.7,140.5 665.9,140.1 667.1,141.1 668.4,140.4 669.6,140.7 670.8,140.1 672.0,140.1 673.2,140.5 674.4,140.5 675.6,140.3 676.8,140.1 678.0,140.3 679.2,139.9 680.4,140.0 681.6,140.2 682.8,140.2 684.0,140.1 685.2,139.9 686.4,140.9 687.6,139.9 688.8,139.2 690.0,139.4 691.3,139.6 692.5,140.3 693.7,140.7 694.9,140.5 696.1,139.9 697.4,140.6 698.6,140.2 699.8,140.1 701.0,139.6 702.2,139.0 703.5,139.5 704.7,139.5 705.9,139.7 707.1,139.9 708.3,139.8 709.5,139.9 710.8,139.3 712.0,139.1 713.2,139.3 714.4,139.1 715.6,139.3 716.9,139.5 718.1,139.8 719.3,139.9 720.5,139.2 721.7,139.1 722.9,139.7 724.2,139.5 725.4,138.6 726.6,138.6 727.8,138.3 729.0,139.1 730.2,138.5 731.5,138.5 732.7,137.7 733.9,139.1 735.1,137.7 736.3,137.0 737.5,137.5 738.8,135.7 740.0,135.5 741.2,135.7 742.4,134.4 743.7,135.1 744.9,133.2 746.1,135.7 747.3,134.8 748.6,133.8 749.8,134.0 751.0,133.6 752.2,133.8 753.5,132.4 754.7,133.3 755.9,132.4 757.2,132.5 758.4,131.1 759.6,132.3 760.9,130.4 762.1,130.9 763.3,130.9 764.6,129.6 765.8,131.3 767.0,131.2 768.3,128.4 769.5,130.6 770.7,129.5 772.0,129.8 773.2,128.8 774.4,128.5 775.6,127.5 776.9,128.6 778.1,127.9 779.3,128.2 780.5,127.1 781.7,127.4 782.9,127.5 784.2,127.8 785.4,126.5 786.6,125.9 787.8,126.9 789.0,124.4 790.3,126.8 791.5,125.7 792.7,127.7 793.9,125.1 795.1,127.4 796.3,124.7 797.6,126.3 798.8,126.3 800.0,125.7 801.4,126.3 802.8,124.9 804.2,125.7 805.6,123.8 807.0,124.0 M821.0,123.1 822.4,119.5 823.7,115.2 825.0,109.3 826.3,101.1 827.8,95.8 829.2,92.2 830.7,87.1 832.5,86.0 834.2,78.3 836.0,70.9 837.7,67.8 839.2,67.5 840.6,62.5 842.1,61.7 843.9,57.9 845.6,59.9 847.4,61.1 849.1,62.5 850.9,63.6 852.6,64.3 854.4,68.2 856.1,66.1 857.6,68.9 859.0,72.3 860.5,71.3 862.0,71.1 863.4,73.9 864.9,74.8 866.2,78.5 867.5,81.7 868.9,81.4 870.2,81.8 871.5,85.0 872.8,85.4 874.1,89.7 875.4,89.7 876.7,92.2 878.0,93.0 879.4,96.3 880.7,97.6 882.1,98.8 883.5,103.0 884.9,102.3 886.3,103.5 887.7,104.6 889.0,108.4 890.3,106.9 891.6,107.6 893.0,109.0 894.3,109.2 895.6,107.7 896.9,108.2 898.2,109.0 899.5,111.3 900.8,114.2 902.0,112.6 903.3,112.7 904.6,112.4 905.9,112.3 907.2,111.4 908.5,113.6 909.7,113.9 911.0,114.3 912.3,113.4 913.5,114.8 914.8,113.8 916.0,116.7 917.3,115.8 918.5,113.5 919.8,116.7 921.0,114.6 922.3,115.9 923.5,116.2 924.8,118.1 926.0,118.7 927.3,119.8 928.5,116.4 929.8,116.9" fill="none" stroke="#1414d8" stroke-width="2.1" stroke-linejoin="round"/>
<line x1="692.3" y1="109.8" x2="692.3" y2="127.9" stroke="#000" stroke-width="1.7"/>
<path d="M689.3,124.4 L692.3,128.3 L695.3,124.4" fill="none" stroke="#000" stroke-width="1.9" stroke-linejoin="miter" stroke-miterlimit="6"/>
<line x1="810.6" y1="93.3" x2="810.6" y2="111.5" stroke="#000" stroke-width="1.7"/>
<path d="M807.6,108.0 L810.6,111.9 L813.6,108.0" fill="none" stroke="#000" stroke-width="1.9" stroke-linejoin="miter" stroke-miterlimit="6"/>
<line x1="914.3" y1="52.3" x2="909.7" y2="55.5" stroke="#4a8f2a" stroke-width="2.4"/>
<line x1="907.3" y1="57.2" x2="902.7" y2="60.4" stroke="#4a8f2a" stroke-width="2.4"/>
<line x1="900.4" y1="62.0" x2="895.8" y2="65.3" stroke="#4a8f2a" stroke-width="2.4"/>
<line x1="892.0" y1="67.9" x2="888.3" y2="70.5" stroke="#4a8f2a" stroke-width="2.0"/>
<path d="M889.8,64.1 L887.4,71.1 L894.9,71.3" fill="none" stroke="#4a8f2a" stroke-width="2.4" stroke-linejoin="miter" stroke-miterlimit="8"/>
<line x1="61.9" y1="212.3" x2="347.6" y2="212.3" stroke="#555" stroke-width="1.3"/>
<line x1="347.6" y1="212.3" x2="347.6" y2="312.6" stroke="#777" stroke-width="1.5"/>
<line x1="61.9" y1="312.6" x2="347.6" y2="312.6" stroke="#4a4a4a" stroke-width="1.3"/>
<line x1="61.9" y1="212.3" x2="61.9" y2="317.6" stroke="#1e1e1e" stroke-width="1.3"/>
<line x1="60.5" y1="310.1" x2="61.9" y2="310.1" stroke="#444" stroke-width="0.9"/>
<line x1="60.5" y1="308.0" x2="61.9" y2="308.0" stroke="#444" stroke-width="0.9"/>
<line x1="60.5" y1="305.9" x2="61.9" y2="305.9" stroke="#444" stroke-width="0.9"/>
<line x1="60.5" y1="303.8" x2="61.9" y2="303.8" stroke="#444" stroke-width="0.9"/>
<line x1="60.5" y1="301.7" x2="61.9" y2="301.7" stroke="#444" stroke-width="0.9"/>
<line x1="60.5" y1="299.7" x2="61.9" y2="299.7" stroke="#444" stroke-width="0.9"/>
<line x1="60.5" y1="297.6" x2="61.9" y2="297.6" stroke="#444" stroke-width="0.9"/>
<line x1="60.5" y1="295.5" x2="61.9" y2="295.5" stroke="#444" stroke-width="0.9"/>
<line x1="60.5" y1="293.4" x2="61.9" y2="293.4" stroke="#444" stroke-width="0.9"/>
<line x1="60.5" y1="291.3" x2="61.9" y2="291.3" stroke="#444" stroke-width="0.9"/>
<line x1="60.5" y1="289.2" x2="61.9" y2="289.2" stroke="#444" stroke-width="0.9"/>
<line x1="60.5" y1="287.1" x2="61.9" y2="287.1" stroke="#444" stroke-width="0.9"/>
<line x1="60.5" y1="285.0" x2="61.9" y2="285.0" stroke="#444" stroke-width="0.9"/>
<line x1="60.5" y1="282.9" x2="61.9" y2="282.9" stroke="#444" stroke-width="0.9"/>
<line x1="60.5" y1="280.8" x2="61.9" y2="280.8" stroke="#444" stroke-width="0.9"/>
<line x1="60.5" y1="278.8" x2="61.9" y2="278.8" stroke="#444" stroke-width="0.9"/>
<line x1="60.5" y1="276.7" x2="61.9" y2="276.7" stroke="#444" stroke-width="0.9"/>
<line x1="60.5" y1="274.6" x2="61.9" y2="274.6" stroke="#444" stroke-width="0.9"/>
<line x1="60.5" y1="272.5" x2="61.9" y2="272.5" stroke="#444" stroke-width="0.9"/>
<line x1="60.5" y1="270.4" x2="61.9" y2="270.4" stroke="#444" stroke-width="0.9"/>
<line x1="60.5" y1="268.3" x2="61.9" y2="268.3" stroke="#444" stroke-width="0.9"/>
<line x1="60.5" y1="266.2" x2="61.9" y2="266.2" stroke="#444" stroke-width="0.9"/>
<line x1="60.5" y1="264.1" x2="61.9" y2="264.1" stroke="#444" stroke-width="0.9"/>
<line x1="60.5" y1="262.0" x2="61.9" y2="262.0" stroke="#444" stroke-width="0.9"/>
<line x1="60.5" y1="259.9" x2="61.9" y2="259.9" stroke="#444" stroke-width="0.9"/>
<line x1="60.5" y1="257.9" x2="61.9" y2="257.9" stroke="#444" stroke-width="0.9"/>
<line x1="60.5" y1="255.8" x2="61.9" y2="255.8" stroke="#444" stroke-width="0.9"/>
<line x1="60.5" y1="253.7" x2="61.9" y2="253.7" stroke="#444" stroke-width="0.9"/>
<line x1="60.5" y1="251.6" x2="61.9" y2="251.6" stroke="#444" stroke-width="0.9"/>
<line x1="60.5" y1="249.5" x2="61.9" y2="249.5" stroke="#444" stroke-width="0.9"/>
<line x1="60.5" y1="247.4" x2="61.9" y2="247.4" stroke="#444" stroke-width="0.9"/>
<line x1="60.5" y1="245.3" x2="61.9" y2="245.3" stroke="#444" stroke-width="0.9"/>
<line x1="60.5" y1="243.2" x2="61.9" y2="243.2" stroke="#444" stroke-width="0.9"/>
<line x1="60.5" y1="241.1" x2="61.9" y2="241.1" stroke="#444" stroke-width="0.9"/>
<line x1="60.5" y1="239.0" x2="61.9" y2="239.0" stroke="#444" stroke-width="0.9"/>
<line x1="60.5" y1="237.0" x2="61.9" y2="237.0" stroke="#444" stroke-width="0.9"/>
<line x1="60.5" y1="234.9" x2="61.9" y2="234.9" stroke="#444" stroke-width="0.9"/>
<line x1="60.5" y1="232.8" x2="61.9" y2="232.8" stroke="#444" stroke-width="0.9"/>
<line x1="60.5" y1="230.7" x2="61.9" y2="230.7" stroke="#444" stroke-width="0.9"/>
<line x1="60.5" y1="228.6" x2="61.9" y2="228.6" stroke="#444" stroke-width="0.9"/>
<line x1="60.5" y1="226.5" x2="61.9" y2="226.5" stroke="#444" stroke-width="0.9"/>
<line x1="60.5" y1="224.4" x2="61.9" y2="224.4" stroke="#444" stroke-width="0.9"/>
<line x1="60.5" y1="222.3" x2="61.9" y2="222.3" stroke="#444" stroke-width="0.9"/>
<line x1="60.5" y1="220.2" x2="61.9" y2="220.2" stroke="#444" stroke-width="0.9"/>
<line x1="60.5" y1="218.1" x2="61.9" y2="218.1" stroke="#444" stroke-width="0.9"/>
<line x1="60.5" y1="216.1" x2="61.9" y2="216.1" stroke="#444" stroke-width="0.9"/>
<line x1="60.5" y1="214.0" x2="61.9" y2="214.0" stroke="#444" stroke-width="0.9"/>
<line x1="58.1" y1="310.1" x2="61.9" y2="310.1" stroke="#7a7a7a" stroke-width="1.6"/>
<line x1="58.1" y1="289.1" x2="61.9" y2="289.1" stroke="#7a7a7a" stroke-width="1.6"/>
<line x1="58.1" y1="268.2" x2="61.9" y2="268.2" stroke="#7a7a7a" stroke-width="1.6"/>
<line x1="58.1" y1="247.1" x2="61.9" y2="247.1" stroke="#7a7a7a" stroke-width="1.6"/>
<line x1="58.1" y1="226.4" x2="61.9" y2="226.4" stroke="#7a7a7a" stroke-width="1.6"/>
<text x="55.1" y="313.5" font-size="8.0" text-anchor="end" fill="#222" stroke="#222" stroke-width="0.15">0.5</text>
<text x="55.1" y="292.5" font-size="8.0" text-anchor="end" fill="#222" stroke="#222" stroke-width="0.15">1</text>
<text x="55.1" y="271.6" font-size="8.0" text-anchor="end" fill="#222" stroke="#222" stroke-width="0.15">1.5</text>
<text x="55.1" y="250.5" font-size="8.0" text-anchor="end" fill="#222" stroke="#222" stroke-width="0.15">2</text>
<text x="55.1" y="229.8" font-size="8.0" text-anchor="end" fill="#222" stroke="#222" stroke-width="0.15">2.5</text>
<line x1="62.0" y1="312.6" x2="62.0" y2="317.4" stroke="#444" stroke-width="1.1"/>
<line x1="83.1" y1="312.6" x2="83.1" y2="314.8" stroke="#444" stroke-width="0.9"/>
<line x1="104.2" y1="312.6" x2="104.2" y2="314.8" stroke="#444" stroke-width="0.9"/>
<line x1="125.4" y1="312.6" x2="125.4" y2="314.8" stroke="#444" stroke-width="0.9"/>
<line x1="146.5" y1="312.6" x2="146.5" y2="317.4" stroke="#444" stroke-width="1.1"/>
<line x1="167.6" y1="312.6" x2="167.6" y2="314.8" stroke="#444" stroke-width="0.9"/>
<line x1="188.8" y1="312.6" x2="188.8" y2="314.8" stroke="#444" stroke-width="0.9"/>
<line x1="209.9" y1="312.6" x2="209.9" y2="314.8" stroke="#444" stroke-width="0.9"/>
<line x1="231.0" y1="312.6" x2="231.0" y2="317.4" stroke="#444" stroke-width="1.1"/>
<line x1="252.1" y1="312.6" x2="252.1" y2="314.8" stroke="#444" stroke-width="0.9"/>
<line x1="273.2" y1="312.6" x2="273.2" y2="314.8" stroke="#444" stroke-width="0.9"/>
<line x1="294.4" y1="312.6" x2="294.4" y2="314.8" stroke="#444" stroke-width="0.9"/>
<line x1="315.5" y1="312.6" x2="315.5" y2="317.4" stroke="#444" stroke-width="1.1"/>
<line x1="336.6" y1="312.6" x2="336.6" y2="314.8" stroke="#444" stroke-width="0.9"/>
<text x="62.0" y="329.1" font-size="8.2" text-anchor="middle" fill="#222" stroke="#222" stroke-width="0.15">0</text>
<text x="146.1" y="329.1" font-size="8.2" text-anchor="middle" fill="#222" stroke="#222" stroke-width="0.15">100</text>
<text x="230.8" y="329.1" font-size="8.2" text-anchor="middle" fill="#222" stroke="#222" stroke-width="0.15">200</text>
<text x="315.5" y="329.1" font-size="8.2" text-anchor="middle" fill="#222" stroke="#222" stroke-width="0.15">300</text>
<text x="205.2" y="339.4" font-size="11" textLength="21.5" lengthAdjust="spacingAndGlyphs" text-anchor="middle" fill="#111" stroke="#111" stroke-width="0.25">Time</text>
<line x1="68.7" y1="226.1" x2="77.9" y2="226.1" stroke="#b8301c" stroke-width="1.9"/>
<line x1="68.7" y1="242.4" x2="77.9" y2="242.4" stroke="#1c26c0" stroke-width="1.9"/>
<text x="81.7" y="229.7" font-size="14.4" textLength="41.3" lengthAdjust="spacingAndGlyphs" fill="#c02a18" stroke="#c02a18" stroke-width="0.5">DMSO</text>
<text x="81.7" y="246.0" font-size="14.4" textLength="18.8" lengthAdjust="spacingAndGlyphs" fill="#1a22c8" stroke="#1a22c8" stroke-width="0.5">CS</text>
<line x1="203.4" y1="301.7" x2="220.3" y2="294.8" stroke="#dd1212" stroke-width="1.4"/>
<path d="M62.8,305.2 63.8,305.7 64.8,306.0 65.9,305.8 66.9,305.3 67.9,305.0 68.9,304.9 69.9,305.7 70.9,305.6 72.0,305.3 73.0,305.4 74.0,305.3 75.0,305.4 76.0,305.8 77.0,305.9 78.1,305.4 79.1,306.0 80.1,305.0 81.1,305.7 82.1,305.9 83.1,305.3 84.2,306.1 85.2,305.3 86.2,306.0 87.2,306.6 88.2,306.3 89.2,306.2 90.2,306.0 91.2,306.1 92.2,306.4 93.2,306.6 94.3,306.4 95.3,306.7 96.3,307.0 97.3,306.0 98.3,306.7 99.3,306.0 100.3,306.6 101.3,306.3 102.3,307.0 103.3,306.6 104.3,306.9 105.3,306.5 106.3,306.6 107.3,307.3 108.3,307.1 109.3,306.5 110.4,307.5 111.4,307.1 112.4,306.2 113.4,306.4 114.4,306.9 115.4,306.5 116.4,306.6 117.4,307.0 118.4,307.4 119.4,307.3 120.4,306.8 121.4,306.4 122.4,306.3 123.4,306.8 124.4,306.9 125.4,307.0 126.4,307.3 127.4,306.5 128.4,307.2 129.4,306.7 130.4,306.7 131.4,306.4 132.4,306.3 133.5,306.1 134.5,306.3 135.5,306.0 136.5,306.4 137.5,306.2 138.5,306.7 139.5,306.5 140.5,306.6 141.5,305.9 142.5,306.6 143.5,306.3 144.5,306.4 145.5,306.7 146.5,306.3 147.5,305.3 148.5,306.2 149.5,306.1 150.5,306.0 151.5,306.4 152.5,306.3 153.5,305.6 154.5,305.9 155.5,306.2 156.6,305.9 157.6,305.1 158.6,305.9 159.6,304.9 160.6,305.4 161.6,304.9 162.6,305.1 163.6,306.1 164.6,305.6 165.6,305.1 166.6,305.0 167.6,305.4 168.6,304.5 169.6,304.2 170.6,304.9 171.6,304.9 172.7,305.3 173.7,305.2 174.7,305.3 175.7,304.8 176.7,305.0 177.7,305.4 178.7,304.9 179.7,304.5 180.7,304.2 181.7,304.6 182.8,303.7 183.8,304.2 184.8,304.0 185.8,303.1 186.8,304.3 187.8,303.9 188.9,303.9 189.9,303.9 190.9,303.5 191.9,303.0 192.9,303.7 194.0,302.8 195.0,303.8 196.0,303.2 197.1,302.7 198.2,301.6 199.3,302.1 200.4,302.5 201.5,302.2 203.4,301.7 M220.3,294.8 221.6,293.7 222.9,294.7 224.2,292.5 225.2,289.0 226.2,286.4 227.2,282.0 228.6,274.5 230.1,270.0 231.6,266.7 233.0,262.0 234.4,254.0 235.9,248.0 237.1,245.1 238.4,243.4 239.6,233.3 240.8,233.0 242.0,221.0 243.2,231.5 244.3,227.7 245.5,240.1 246.7,229.5 247.9,230.4 249.1,230.4 250.3,232.3 251.5,227.0 252.7,228.1 253.9,227.9 255.0,237.6 256.2,231.9 257.4,238.0 258.7,242.2 260.0,246.2 261.3,243.5 262.5,239.0 263.6,249.0 264.8,243.3 265.9,250.6 267.1,251.0 268.3,250.6 269.5,252.8 270.6,253.3 271.8,260.4 273.0,258.0 274.3,261.0 275.6,263.6 276.9,262.5 278.1,261.9 279.2,262.9 280.4,265.8 281.5,263.7 282.7,268.0 283.8,265.9 284.8,268.3 285.9,269.8 287.0,272.7 288.0,269.9 289.1,268.9 290.1,267.3 291.2,270.8 292.3,269.3 293.3,270.1 294.4,272.0 295.4,269.2 296.4,270.9 297.4,270.3 298.4,273.6 299.4,273.2 300.5,273.2 301.5,274.4 302.5,273.3 303.5,273.0 304.5,273.0 305.5,273.4 306.6,273.7 307.6,274.8 308.7,271.6 309.7,274.5 310.7,272.6 311.8,274.8 312.8,273.9 313.8,272.9 314.9,273.9 315.9,273.6 317.0,274.5 318.0,274.3 319.0,276.0 320.1,275.6 321.1,276.1 322.1,273.9 323.2,276.9 324.2,275.3 325.3,277.0 326.3,275.0 327.3,275.3 328.4,276.4 329.4,274.5 330.5,272.8 331.5,276.0 332.5,273.8 333.6,275.9 334.6,275.6 335.6,275.6 336.7,274.7 337.7,275.2 338.8,276.7 339.8,276.8 340.8,274.3 341.9,276.8 342.9,275.4 344.0,276.9 345.0,276.5" fill="none" stroke="#dd1212" stroke-width="2.1" stroke-linejoin="round"/>
<line x1="204.0" y1="295.4" x2="220.3" y2="293.4" stroke="#1414d8" stroke-width="1.4"/>
<path d="M62.8,305.4 63.8,306.1 64.8,306.1 65.9,305.8 66.9,305.2 67.9,305.0 68.9,306.0 69.9,306.1 70.9,305.0 72.0,306.2 73.0,305.8 74.0,306.3 75.0,305.9 76.0,306.1 77.0,305.4 78.1,306.6 79.1,306.5 80.1,306.1 81.1,306.2 82.1,306.0 83.1,307.0 84.2,306.3 85.2,306.9 86.2,306.3 87.2,306.3 88.2,306.8 89.2,307.6 90.2,306.4 91.2,306.8 92.2,306.4 93.2,306.4 94.3,306.4 95.3,306.2 96.3,306.5 97.3,306.4 98.3,306.4 99.3,306.6 100.3,307.1 101.3,306.8 102.3,307.4 103.3,306.6 104.3,306.9 105.3,306.8 106.3,306.5 107.3,307.6 108.3,306.8 109.3,307.4 110.4,307.0 111.4,306.6 112.4,307.1 113.4,307.0 114.4,307.0 115.4,306.6 116.4,308.1 117.4,307.3 118.4,307.5 119.4,307.4 120.4,307.3 121.4,307.2 122.4,307.1 123.4,307.7 124.4,307.4 125.4,307.0 126.4,306.8 127.4,307.4 128.4,306.7 129.4,307.3 130.4,307.5 131.4,307.0 132.4,307.0 133.5,306.8 134.5,306.8 135.5,306.8 136.5,306.4 137.5,306.2 138.5,306.9 139.5,306.4 140.5,306.6 141.5,306.5 142.5,306.3 143.5,306.8 144.5,306.6 145.5,306.3 146.5,306.1 147.5,306.5 148.5,306.3 149.5,305.8 150.5,305.8 151.5,306.2 152.5,305.7 153.5,306.3 154.5,306.0 155.5,306.1 156.6,307.1 157.6,306.1 158.6,305.8 159.6,305.4 160.6,305.8 161.6,306.1 162.6,304.8 163.6,305.8 164.6,305.8 165.6,305.1 166.6,305.1 167.6,304.3 168.6,304.8 169.6,304.9 170.6,304.3 171.6,305.0 172.7,304.8 173.7,304.0 174.7,304.8 175.7,304.2 176.7,304.1 177.7,304.2 178.7,303.9 179.7,304.3 180.7,304.1 181.7,305.1 182.8,303.8 183.8,303.4 184.8,303.9 185.8,303.2 186.8,302.7 187.8,303.1 188.9,303.8 189.9,302.9 190.9,303.7 191.9,303.5 192.9,303.7 194.0,302.7 195.0,303.1 196.0,302.8 197.1,302.9 198.2,302.5 199.3,301.1 200.4,302.8 201.5,301.5 202.4,295.8 203.2,300.8 204.0,295.4 M220.3,293.4 221.6,293.6 222.9,293.3 224.2,291.9 225.2,286.6 226.2,286.0 227.2,280.2 228.6,272.0 230.1,268.5 231.1,247.0 233.0,264.6 234.4,255.7 235.9,245.1 236.9,245.5 237.9,235.3 239.4,231.2 240.8,227.5 242.2,226.3 243.7,221.7 244.7,219.9 245.7,217.8 247.6,229.5 248.9,226.9 250.2,222.3 251.5,220.7 253.5,231.4 254.8,230.3 256.1,235.8 257.4,237.3 258.7,240.3 260.0,245.9 261.3,243.1 262.5,242.6 263.6,248.0 264.8,247.1 265.9,251.8 267.1,252.9 268.3,252.0 269.5,253.1 270.6,260.7 271.8,262.2 273.0,260.7 274.3,263.6 275.6,265.5 276.9,266.5 278.1,267.4 279.2,268.3 280.4,268.3 281.5,267.3 282.7,269.5 283.8,268.6 284.8,272.1 285.9,265.9 287.0,271.3 288.0,269.1 289.1,274.7 290.1,272.2 291.2,272.4 292.3,274.5 293.3,268.6 294.4,272.4 295.4,271.8 296.4,271.1 297.4,271.3 298.4,273.5 299.4,272.1 300.5,271.8 301.5,272.9 302.5,275.5 303.5,273.0 304.5,272.0 305.5,272.5 306.6,271.8 307.6,272.2 308.7,273.4 309.7,272.7 310.7,272.4 311.8,274.8 312.8,274.5 313.8,275.9 314.9,275.4 315.9,275.7 317.0,274.3 318.0,274.9 319.0,273.8 320.1,274.1 321.1,274.2 322.1,274.4 323.2,276.1 324.2,277.3 325.3,276.3 326.3,275.2 327.3,275.6 328.4,276.7 329.4,274.6 330.5,276.0 331.5,274.8 332.5,275.6 333.6,276.6 334.6,275.3 335.6,278.8 336.7,277.1 337.7,276.7 338.8,276.7 339.8,277.5 340.8,276.9 341.9,276.0 342.9,275.8 344.0,277.7 345.0,276.7" fill="none" stroke="#1414d8" stroke-width="2.1" stroke-linejoin="round"/>
<line x1="129.8" y1="279.2" x2="129.8" y2="297.7" stroke="#000" stroke-width="1.7"/>
<path d="M126.8,294.2 L129.8,298.1 L132.8,294.2" fill="none" stroke="#000" stroke-width="1.9" stroke-linejoin="miter" stroke-miterlimit="6"/>
<line x1="210.3" y1="267.4" x2="210.3" y2="286.1" stroke="#000" stroke-width="1.7"/>
<path d="M207.3,282.6 L210.3,286.5 L213.3,282.6" fill="none" stroke="#000" stroke-width="1.9" stroke-linejoin="miter" stroke-miterlimit="6"/>
<line x1="354.4" y1="211.7" x2="637.8" y2="211.7" stroke="#555" stroke-width="1.3"/>
<line x1="637.8" y1="211.7" x2="637.8" y2="311.1" stroke="#777" stroke-width="1.5"/>
<line x1="354.4" y1="311.1" x2="637.8" y2="311.1" stroke="#4a4a4a" stroke-width="1.3"/>
<line x1="354.4" y1="211.7" x2="354.4" y2="316.1" stroke="#1e1e1e" stroke-width="1.3"/>
<line x1="353.0" y1="308.5" x2="354.4" y2="308.5" stroke="#444" stroke-width="0.9"/>
<line x1="353.0" y1="304.7" x2="354.4" y2="304.7" stroke="#444" stroke-width="0.9"/>
<line x1="353.0" y1="301.0" x2="354.4" y2="301.0" stroke="#444" stroke-width="0.9"/>
<line x1="353.0" y1="297.2" x2="354.4" y2="297.2" stroke="#444" stroke-width="0.9"/>
<line x1="353.0" y1="293.5" x2="354.4" y2="293.5" stroke="#444" stroke-width="0.9"/>
<line x1="353.0" y1="289.7" x2="354.4" y2="289.7" stroke="#444" stroke-width="0.9"/>
<line x1="353.0" y1="285.9" x2="354.4" y2="285.9" stroke="#444" stroke-width="0.9"/>
<line x1="353.0" y1="282.2" x2="354.4" y2="282.2" stroke="#444" stroke-width="0.9"/>
<line x1="353.0" y1="278.4" x2="354.4" y2="278.4" stroke="#444" stroke-width="0.9"/>
<line x1="353.0" y1="274.7" x2="354.4" y2="274.7" stroke="#444" stroke-width="0.9"/>
<line x1="353.0" y1="270.9" x2="354.4" y2="270.9" stroke="#444" stroke-width="0.9"/>
<line x1="353.0" y1="267.1" x2="354.4" y2="267.1" stroke="#444" stroke-width="0.9"/>
<line x1="353.0" y1="263.4" x2="354.4" y2="263.4" stroke="#444" stroke-width="0.9"/>
<line x1="353.0" y1="259.6" x2="354.4" y2="259.6" stroke="#444" stroke-width="0.9"/>
<line x1="353.0" y1="255.9" x2="354.4" y2="255.9" stroke="#444" stroke-width="0.9"/>
<line x1="353.0" y1="252.1" x2="354.4" y2="252.1" stroke="#444" stroke-width="0.9"/>
<line x1="353.0" y1="248.3" x2="354.4" y2="248.3" stroke="#444" stroke-width="0.9"/>
<line x1="353.0" y1="244.6" x2="354.4" y2="244.6" stroke="#444" stroke-width="0.9"/>
<line x1="353.0" y1="240.8" x2="354.4" y2="240.8" stroke="#444" stroke-width="0.9"/>
<line x1="353.0" y1="237.1" x2="354.4" y2="237.1" stroke="#444" stroke-width="0.9"/>
<line x1="353.0" y1="233.3" x2="354.4" y2="233.3" stroke="#444" stroke-width="0.9"/>
<line x1="353.0" y1="229.5" x2="354.4" y2="229.5" stroke="#444" stroke-width="0.9"/>
<line x1="353.0" y1="225.8" x2="354.4" y2="225.8" stroke="#444" stroke-width="0.9"/>
<line x1="353.0" y1="222.0" x2="354.4" y2="222.0" stroke="#444" stroke-width="0.9"/>
<line x1="353.0" y1="218.3" x2="354.4" y2="218.3" stroke="#444" stroke-width="0.9"/>
<line x1="353.0" y1="214.5" x2="354.4" y2="214.5" stroke="#444" stroke-width="0.9"/>
<line x1="350.6" y1="308.5" x2="354.4" y2="308.5" stroke="#7a7a7a" stroke-width="1.6"/>
<line x1="350.6" y1="289.8" x2="354.4" y2="289.8" stroke="#7a7a7a" stroke-width="1.6"/>
<line x1="350.6" y1="270.5" x2="354.4" y2="270.5" stroke="#7a7a7a" stroke-width="1.6"/>
<line x1="350.6" y1="251.5" x2="354.4" y2="251.5" stroke="#7a7a7a" stroke-width="1.6"/>
<line x1="350.6" y1="233.1" x2="354.4" y2="233.1" stroke="#7a7a7a" stroke-width="1.6"/>
<line x1="350.6" y1="214.4" x2="354.4" y2="214.4" stroke="#7a7a7a" stroke-width="1.6"/>
<line x1="354.5" y1="311.1" x2="354.5" y2="315.9" stroke="#444" stroke-width="1.1"/>
<line x1="374.7" y1="311.1" x2="374.7" y2="313.3" stroke="#444" stroke-width="0.9"/>
<line x1="394.9" y1="311.1" x2="394.9" y2="313.3" stroke="#444" stroke-width="0.9"/>
<line x1="415.1" y1="311.1" x2="415.1" y2="313.3" stroke="#444" stroke-width="0.9"/>
<line x1="435.4" y1="311.1" x2="435.4" y2="315.9" stroke="#444" stroke-width="1.1"/>
<line x1="455.6" y1="311.1" x2="455.6" y2="313.3" stroke="#444" stroke-width="0.9"/>
<line x1="475.8" y1="311.1" x2="475.8" y2="313.3" stroke="#444" stroke-width="0.9"/>
<line x1="496.0" y1="311.1" x2="496.0" y2="313.3" stroke="#444" stroke-width="0.9"/>
<line x1="516.2" y1="311.1" x2="516.2" y2="315.9" stroke="#444" stroke-width="1.1"/>
<line x1="536.5" y1="311.1" x2="536.5" y2="313.3" stroke="#444" stroke-width="0.9"/>
<line x1="556.7" y1="311.1" x2="556.7" y2="313.3" stroke="#444" stroke-width="0.9"/>
<line x1="576.9" y1="311.1" x2="576.9" y2="313.3" stroke="#444" stroke-width="0.9"/>
<line x1="597.1" y1="311.1" x2="597.1" y2="315.9" stroke="#444" stroke-width="1.1"/>
<line x1="617.3" y1="311.1" x2="617.3" y2="313.3" stroke="#444" stroke-width="0.9"/>
<text x="354.5" y="327.6" font-size="8.2" text-anchor="middle" fill="#222" stroke="#222" stroke-width="0.15">0</text>
<text x="435.7" y="327.6" font-size="8.2" text-anchor="middle" fill="#222" stroke="#222" stroke-width="0.15">100</text>
<text x="516.6" y="327.6" font-size="8.2" text-anchor="middle" fill="#222" stroke="#222" stroke-width="0.15">200</text>
<text x="597.1" y="327.6" font-size="8.2" text-anchor="middle" fill="#222" stroke="#222" stroke-width="0.15">300</text>
<text x="495.8" y="337.9" font-size="11" textLength="21.5" lengthAdjust="spacingAndGlyphs" text-anchor="middle" fill="#111" stroke="#111" stroke-width="0.25">Time</text>
<line x1="361.0" y1="226.0" x2="370.2" y2="226.0" stroke="#b8301c" stroke-width="1.9"/>
<line x1="361.0" y1="242.4" x2="370.2" y2="242.4" stroke="#1c26c0" stroke-width="1.9"/>
<text x="374.0" y="229.6" font-size="14.4" textLength="41.3" lengthAdjust="spacingAndGlyphs" fill="#c02a18" stroke="#c02a18" stroke-width="0.5">DMSO</text>
<text x="374.0" y="246.0" font-size="14.4" textLength="18.8" lengthAdjust="spacingAndGlyphs" fill="#1a22c8" stroke="#1a22c8" stroke-width="0.5">CS</text>
<line x1="493.4" y1="302.1" x2="507.7" y2="290.4" stroke="#dd1212" stroke-width="1.4"/>
<path d="M356.2,305.2 357.2,305.6 358.2,304.8 359.2,305.2 360.2,305.1 361.2,304.9 362.2,304.8 363.2,305.3 364.2,305.2 365.2,305.0 366.2,304.7 367.2,305.1 368.2,305.7 369.2,305.6 370.2,305.1 371.3,305.1 372.3,304.8 373.3,305.0 374.3,305.0 375.3,305.2 376.3,304.8 377.3,305.0 378.3,305.0 379.3,304.6 380.3,304.8 381.3,304.8 382.3,305.0 383.3,305.1 384.3,305.5 385.3,305.2 386.3,305.4 387.3,304.4 388.3,305.1 389.3,304.0 390.3,305.0 391.3,304.1 392.3,305.2 393.3,304.6 394.3,304.9 395.3,304.9 396.3,305.0 397.3,304.2 398.3,305.1 399.4,305.0 400.4,305.1 401.4,305.0 402.4,304.6 403.4,304.7 404.4,304.5 405.4,304.5 406.4,304.0 407.4,304.4 408.4,304.2 409.4,305.6 410.4,304.1 411.4,305.3 412.4,304.6 413.4,304.6 414.4,304.0 415.4,304.2 416.4,304.5 417.4,303.6 418.4,305.1 419.4,303.7 420.4,304.8 421.4,303.9 422.4,303.9 423.4,304.5 424.4,304.5 425.4,303.8 426.4,303.6 427.4,303.3 428.5,302.9 429.5,303.4 430.5,304.1 431.5,303.5 432.5,303.1 433.5,303.4 434.5,303.4 435.5,304.0 436.5,303.5 437.5,303.2 438.5,303.5 439.5,302.9 440.5,303.3 441.5,303.6 442.5,303.1 443.5,303.0 444.5,302.6 445.5,302.5 446.5,302.4 447.5,303.3 448.5,302.4 449.5,301.9 450.5,301.9 451.6,301.6 452.6,301.1 453.6,302.0 454.6,301.7 455.6,301.3 456.6,301.1 457.6,300.8 458.6,301.0 459.6,300.2 460.6,300.3 461.6,300.1 462.6,300.1 463.6,299.7 464.6,299.9 465.6,299.3 466.6,299.8 467.7,298.6 468.7,299.1 469.7,299.1 470.7,298.6 471.7,298.7 472.7,298.0 473.7,298.0 474.7,298.5 475.7,298.8 476.7,300.2 477.8,298.7 478.8,298.2 479.8,299.0 480.8,297.9 481.8,299.8 482.9,299.5 483.9,299.1 484.9,297.3 485.9,297.9 486.9,298.7 488.0,298.4 489.0,299.8 490.0,299.0 491.1,299.3 492.3,301.4 493.4,302.1 M507.7,290.4 509.1,292.4 510.5,296.0 512.3,282.0 513.5,284.5 514.8,272.2 516.0,272.0 517.1,268.7 518.2,262.6 519.3,260.0 520.4,256.5 521.4,255.0 522.5,250.4 523.5,245.0 524.6,244.4 525.6,251.2 526.7,238.0 527.7,232.9 528.8,231.3 529.8,229.0 530.9,225.7 531.9,227.5 533.0,223.0 534.0,225.2 535.1,219.5 536.3,222.3 537.4,220.3 538.6,225.8 539.7,226.2 540.8,222.6 541.9,224.9 543.0,231.0 544.3,238.6 545.6,248.0 546.6,251.0 547.6,254.7 548.6,250.6 549.6,257.9 550.6,255.6 551.6,256.7 552.6,257.4 553.6,255.8 554.6,260.9 555.6,261.7 556.6,264.4 557.6,264.2 558.6,263.0 559.6,264.4 560.7,262.6 561.7,265.2 562.8,267.7 563.8,264.0 564.9,268.3 566.0,267.5 567.0,270.6 568.1,272.5 569.1,271.9 570.2,272.3 571.2,273.0 572.3,271.4 573.3,273.3 574.3,274.8 575.3,275.5 576.4,278.3 577.4,273.5 578.4,275.5 579.5,282.4 580.5,275.6 581.5,273.8 582.6,276.1 583.6,274.7 584.6,274.3 585.6,274.1 586.7,277.1 587.7,277.5 588.7,277.5 589.8,278.3 590.8,275.4 591.8,275.7 592.9,278.0 593.9,279.8 594.9,279.8 596.0,280.9 597.0,274.6 598.1,279.4 599.1,274.6 600.1,280.7 601.2,278.6 602.2,279.2 603.2,279.3 604.3,273.8 605.3,279.3 606.3,280.6 607.4,272.4 608.4,279.6 609.4,280.2 610.4,277.8 611.5,279.1 612.5,280.2 613.5,277.2 614.5,277.1 615.6,282.3 616.6,280.4 617.6,281.3 618.7,278.3 619.7,280.2 620.7,275.7 621.7,282.7 622.8,280.5 623.8,283.5 624.8,285.6 625.9,277.7 626.9,281.3 627.9,279.4 628.9,274.9 630.0,278.2 631.0,278.8 632.0,278.3 633.0,276.5 634.1,283.0 635.1,279.8" fill="none" stroke="#dd1212" stroke-width="2.1" stroke-linejoin="round"/>
<line x1="494.3" y1="297.1" x2="507.7" y2="286.8" stroke="#1414d8" stroke-width="1.4"/>
<path d="M356.2,305.4 357.2,305.6 358.2,305.0 359.2,305.8 360.2,305.8 361.2,305.3 362.2,305.4 363.2,305.4 364.2,304.7 365.2,305.6 366.2,305.5 367.2,305.3 368.2,304.7 369.2,305.4 370.2,305.7 371.3,305.2 372.3,305.1 373.3,305.7 374.3,305.6 375.3,305.9 376.3,305.3 377.3,305.4 378.3,306.1 379.3,304.8 380.3,304.6 381.3,304.7 382.3,305.0 383.3,304.9 384.3,304.8 385.3,305.0 386.3,304.8 387.3,305.1 388.3,305.1 389.3,304.8 390.3,305.2 391.3,305.4 392.3,305.2 393.3,304.8 394.3,304.8 395.3,304.8 396.3,304.4 397.3,305.5 398.3,304.7 399.4,305.0 400.4,304.9 401.4,304.8 402.4,304.9 403.4,305.1 404.4,304.9 405.4,304.6 406.4,304.5 407.4,304.6 408.4,304.9 409.4,304.9 410.4,304.3 411.4,304.9 412.4,304.8 413.4,304.4 414.4,304.2 415.4,304.2 416.4,304.6 417.4,304.8 418.4,304.2 419.4,304.6 420.4,304.3 421.4,304.6 422.4,304.6 423.4,304.4 424.4,304.4 425.4,303.4 426.4,304.1 427.4,303.5 428.5,304.2 429.5,304.2 430.5,303.9 431.5,304.0 432.5,303.7 433.5,304.0 434.5,303.6 435.5,304.0 436.5,304.0 437.5,303.2 438.5,304.0 439.5,303.1 440.5,304.1 441.5,303.5 442.5,302.6 443.5,303.2 444.5,302.3 445.5,303.7 446.5,302.8 447.5,302.9 448.5,302.6 449.5,302.2 450.5,302.5 451.6,301.9 452.6,301.6 453.6,301.4 454.6,301.6 455.6,301.8 456.6,301.6 457.6,301.4 458.6,301.0 459.6,299.4 460.6,300.3 461.6,300.7 462.6,300.6 463.6,300.1 464.6,300.4 465.6,299.8 466.6,299.4 467.7,299.1 468.7,299.7 469.7,299.2 470.7,298.7 471.7,299.4 472.7,298.2 473.7,298.4 474.7,298.5 475.7,298.3 476.7,297.2 477.7,297.7 478.7,298.4 479.8,297.7 480.8,298.7 481.8,297.2 482.8,297.7 483.8,297.6 484.8,297.4 485.8,298.7 486.8,296.8 487.9,297.6 488.9,297.3 489.9,297.8 490.9,297.1 491.9,297.0 493.1,297.6 494.3,297.1 M507.7,286.8 508.8,283.6 510.0,285.7 511.1,283.2 512.3,280.5 513.3,279.0 514.4,270.9 515.4,269.9 516.5,272.4 517.5,262.6 518.9,254.0 520.2,245.3 521.4,247.5 522.5,245.8 523.7,245.0 524.9,241.8 526.0,243.9 527.2,233.0 528.5,228.4 529.8,218.5 531.6,231.0 532.8,235.5 533.9,232.5 535.1,234.0 536.2,232.3 537.2,237.4 538.3,239.6 539.3,235.7 540.4,245.1 541.4,244.4 542.5,245.7 543.5,246.9 544.6,246.9 545.6,252.1 546.7,254.8 547.7,255.3 548.8,259.3 549.8,259.4 550.9,259.1 551.9,258.9 552.9,258.4 553.9,264.5 554.9,266.4 555.9,265.1 556.9,257.8 557.9,268.6 559.0,266.0 560.1,268.8 561.2,271.3 562.3,267.9 563.4,274.0 564.5,269.4 565.6,272.4 566.7,273.2 567.8,274.7 568.9,271.3 570.0,277.0 571.0,272.6 572.1,273.8 573.2,279.3 574.3,278.5 575.4,277.0 576.4,278.8 577.5,275.2 578.5,278.0 579.5,280.9 580.5,278.2 581.5,279.1 582.6,277.9 583.6,282.2 584.6,278.5 585.7,276.9 586.7,281.3 587.7,279.3 588.7,280.9 589.8,281.7 590.8,281.6 591.8,279.5 592.9,281.0 593.9,277.7 594.9,280.9 596.0,280.6 597.0,277.2 598.1,280.1 599.1,284.6 600.1,278.2 601.2,281.2 602.2,279.7 603.2,275.4 604.3,279.6 605.3,280.2 606.3,279.1 607.4,279.5 608.4,278.7 609.4,280.0 610.4,280.2 611.5,280.2 612.5,279.1 613.5,280.2 614.6,274.7 615.6,278.8 616.6,278.8 617.7,280.9 618.7,281.2 619.7,279.0 620.7,279.5 621.8,281.3 622.8,280.2 623.8,278.9 624.8,278.3 625.9,279.7 626.9,279.7 627.9,278.6 629.0,279.5 630.0,279.2 631.0,281.0 632.0,282.6 633.0,280.9 634.1,282.3 635.1,281.1" fill="none" stroke="#1414d8" stroke-width="2.1" stroke-linejoin="round"/>
<line x1="424.2" y1="276.7" x2="424.2" y2="295.5" stroke="#000" stroke-width="1.7"/>
<path d="M421.2,292.0 L424.2,295.9 L427.2,292.0" fill="none" stroke="#000" stroke-width="1.9" stroke-linejoin="miter" stroke-miterlimit="6"/>
<line x1="495.0" y1="263.6" x2="495.0" y2="282.1" stroke="#000" stroke-width="1.7"/>
<path d="M492.0,278.6 L495.0,282.5 L498.0,278.6" fill="none" stroke="#000" stroke-width="1.9" stroke-linejoin="miter" stroke-miterlimit="6"/>
<line x1="645.2" y1="212.2" x2="934.2" y2="212.2" stroke="#555" stroke-width="1.3"/>
<line x1="934.2" y1="212.2" x2="934.2" y2="309.8" stroke="#777" stroke-width="1.5"/>
<line x1="645.2" y1="309.8" x2="934.2" y2="309.8" stroke="#555555" stroke-width="1.4"/>
<line x1="645.2" y1="212.2" x2="645.2" y2="314.8" stroke="#1e1e1e" stroke-width="1.3"/>
<line x1="643.8" y1="308.2" x2="645.2" y2="308.2" stroke="#444" stroke-width="0.9"/>
<line x1="643.8" y1="304.5" x2="645.2" y2="304.5" stroke="#444" stroke-width="0.9"/>
<line x1="643.8" y1="300.8" x2="645.2" y2="300.8" stroke="#444" stroke-width="0.9"/>
<line x1="643.8" y1="297.2" x2="645.2" y2="297.2" stroke="#444" stroke-width="0.9"/>
<line x1="643.8" y1="293.5" x2="645.2" y2="293.5" stroke="#444" stroke-width="0.9"/>
<line x1="643.8" y1="289.8" x2="645.2" y2="289.8" stroke="#444" stroke-width="0.9"/>
<line x1="643.8" y1="286.1" x2="645.2" y2="286.1" stroke="#444" stroke-width="0.9"/>
<line x1="643.8" y1="282.4" x2="645.2" y2="282.4" stroke="#444" stroke-width="0.9"/>
<line x1="643.8" y1="278.8" x2="645.2" y2="278.8" stroke="#444" stroke-width="0.9"/>
<line x1="643.8" y1="275.1" x2="645.2" y2="275.1" stroke="#444" stroke-width="0.9"/>
<line x1="643.8" y1="271.4" x2="645.2" y2="271.4" stroke="#444" stroke-width="0.9"/>
<line x1="643.8" y1="267.7" x2="645.2" y2="267.7" stroke="#444" stroke-width="0.9"/>
<line x1="643.8" y1="264.0" x2="645.2" y2="264.0" stroke="#444" stroke-width="0.9"/>
<line x1="643.8" y1="260.4" x2="645.2" y2="260.4" stroke="#444" stroke-width="0.9"/>
<line x1="643.8" y1="256.7" x2="645.2" y2="256.7" stroke="#444" stroke-width="0.9"/>
<line x1="643.8" y1="253.0" x2="645.2" y2="253.0" stroke="#444" stroke-width="0.9"/>
<line x1="643.8" y1="249.3" x2="645.2" y2="249.3" stroke="#444" stroke-width="0.9"/>
<line x1="643.8" y1="245.6" x2="645.2" y2="245.6" stroke="#444" stroke-width="0.9"/>
<line x1="643.8" y1="242.0" x2="645.2" y2="242.0" stroke="#444" stroke-width="0.9"/>
<line x1="643.8" y1="238.3" x2="645.2" y2="238.3" stroke="#444" stroke-width="0.9"/>
<line x1="643.8" y1="234.6" x2="645.2" y2="234.6" stroke="#444" stroke-width="0.9"/>
<line x1="643.8" y1="230.9" x2="645.2" y2="230.9" stroke="#444" stroke-width="0.9"/>
<line x1="643.8" y1="227.2" x2="645.2" y2="227.2" stroke="#444" stroke-width="0.9"/>
<line x1="643.8" y1="223.6" x2="645.2" y2="223.6" stroke="#444" stroke-width="0.9"/>
<line x1="643.8" y1="219.9" x2="645.2" y2="219.9" stroke="#444" stroke-width="0.9"/>
<line x1="643.8" y1="216.2" x2="645.2" y2="216.2" stroke="#444" stroke-width="0.9"/>
<line x1="641.4" y1="308.2" x2="645.2" y2="308.2" stroke="#7a7a7a" stroke-width="1.6"/>
<line x1="641.4" y1="290.2" x2="645.2" y2="290.2" stroke="#7a7a7a" stroke-width="1.6"/>
<line x1="641.4" y1="271.1" x2="645.2" y2="271.1" stroke="#7a7a7a" stroke-width="1.6"/>
<line x1="641.4" y1="252.7" x2="645.2" y2="252.7" stroke="#7a7a7a" stroke-width="1.6"/>
<line x1="641.4" y1="234.2" x2="645.2" y2="234.2" stroke="#7a7a7a" stroke-width="1.6"/>
<line x1="641.4" y1="215.8" x2="645.2" y2="215.8" stroke="#7a7a7a" stroke-width="1.6"/>
<line x1="645.5" y1="309.8" x2="645.5" y2="314.6" stroke="#444" stroke-width="1.1"/>
<line x1="666.1" y1="309.8" x2="666.1" y2="312.0" stroke="#444" stroke-width="0.9"/>
<line x1="686.8" y1="309.8" x2="686.8" y2="312.0" stroke="#444" stroke-width="0.9"/>
<line x1="707.4" y1="309.8" x2="707.4" y2="312.0" stroke="#444" stroke-width="0.9"/>
<line x1="728.1" y1="309.8" x2="728.1" y2="314.6" stroke="#444" stroke-width="1.1"/>
<line x1="748.7" y1="309.8" x2="748.7" y2="312.0" stroke="#444" stroke-width="0.9"/>
<line x1="769.4" y1="309.8" x2="769.4" y2="312.0" stroke="#444" stroke-width="0.9"/>
<line x1="790.0" y1="309.8" x2="790.0" y2="312.0" stroke="#444" stroke-width="0.9"/>
<line x1="810.6" y1="309.8" x2="810.6" y2="314.6" stroke="#444" stroke-width="1.1"/>
<line x1="831.3" y1="309.8" x2="831.3" y2="312.0" stroke="#444" stroke-width="0.9"/>
<line x1="851.9" y1="309.8" x2="851.9" y2="312.0" stroke="#444" stroke-width="0.9"/>
<line x1="872.6" y1="309.8" x2="872.6" y2="312.0" stroke="#444" stroke-width="0.9"/>
<line x1="893.2" y1="309.8" x2="893.2" y2="314.6" stroke="#444" stroke-width="1.1"/>
<line x1="913.8" y1="309.8" x2="913.8" y2="312.0" stroke="#444" stroke-width="0.9"/>
<text x="645.5" y="326.3" font-size="8.2" text-anchor="middle" fill="#222" stroke="#222" stroke-width="0.15">0</text>
<text x="728.0" y="326.3" font-size="8.2" text-anchor="middle" fill="#222" stroke="#222" stroke-width="0.15">100</text>
<text x="810.4" y="326.3" font-size="8.2" text-anchor="middle" fill="#222" stroke="#222" stroke-width="0.15">200</text>
<text x="893.2" y="326.3" font-size="8.2" text-anchor="middle" fill="#222" stroke="#222" stroke-width="0.15">300</text>
<text x="789.7" y="336.6" font-size="11" textLength="21.5" lengthAdjust="spacingAndGlyphs" text-anchor="middle" fill="#111" stroke="#111" stroke-width="0.25">Time</text>
<line x1="652.1" y1="224.9" x2="661.3" y2="224.9" stroke="#b8301c" stroke-width="1.9"/>
<line x1="652.1" y1="241.6" x2="661.3" y2="241.6" stroke="#1c26c0" stroke-width="1.9"/>
<text x="665.1" y="228.5" font-size="14.4" textLength="41.3" lengthAdjust="spacingAndGlyphs" fill="#c02a18" stroke="#c02a18" stroke-width="0.5">DMSO</text>
<text x="665.1" y="245.2" font-size="14.4" textLength="18.8" lengthAdjust="spacingAndGlyphs" fill="#1a22c8" stroke="#1a22c8" stroke-width="0.5">CS</text>
<line x1="808.1" y1="290.6" x2="808.7" y2="298.6" stroke="#dd1212" stroke-width="1.4"/>
<line x1="808.7" y1="298.6" x2="820.4" y2="286.5" stroke="#dd1212" stroke-width="1.4"/>
<path d="M646.3,304.0 647.3,303.9 648.3,303.6 649.3,304.5 650.3,303.9 651.3,303.2 652.3,303.2 653.4,303.1 654.4,304.0 655.4,303.8 656.4,303.9 657.4,303.7 658.4,303.5 659.4,302.7 660.4,303.6 661.4,303.6 662.4,302.6 663.4,303.2 664.4,302.7 665.4,302.3 666.4,303.1 667.5,302.9 668.5,302.2 669.5,302.4 670.5,302.8 671.5,302.3 672.5,302.8 673.5,302.3 674.5,302.9 675.5,302.2 676.5,302.3 677.5,301.5 678.5,301.9 679.5,302.4 680.5,301.6 681.6,301.8 682.6,302.2 683.6,302.4 684.6,302.4 685.6,302.3 686.6,301.5 687.6,301.7 688.6,301.0 689.6,301.1 690.7,301.5 691.7,301.6 692.7,301.7 693.7,302.1 694.8,301.5 695.8,301.3 696.8,301.9 697.8,301.8 698.8,302.3 699.9,302.1 700.9,302.6 701.9,301.3 702.9,301.3 704.0,301.7 705.0,301.4 706.0,301.1 707.0,301.8 708.1,301.0 709.1,302.0 710.1,301.8 711.1,301.5 712.1,301.3 713.2,301.4 714.2,301.7 715.2,301.9 716.2,301.7 717.3,302.2 718.3,301.5 719.3,301.7 720.4,302.1 721.4,301.8 722.5,300.7 723.5,301.9 724.6,301.0 725.6,300.7 726.7,301.5 727.7,300.7 728.8,300.9 729.8,300.2 730.9,299.9 731.9,299.8 733.0,300.0 734.0,299.4 735.1,299.5 736.2,299.0 737.2,299.2 738.3,299.5 739.3,298.7 740.4,298.1 741.5,297.6 742.5,297.8 743.6,296.6 744.6,297.8 745.7,297.4 746.8,296.9 747.8,295.3 748.9,295.9 749.9,295.3 751.0,295.5 752.1,294.7 753.1,295.4 754.2,294.7 755.2,295.4 756.3,295.2 757.4,293.4 758.4,293.8 759.5,293.3 760.5,292.5 761.6,292.6 762.7,290.8 763.7,292.0 764.8,291.0 765.8,292.3 766.9,292.0 768.0,290.8 769.0,291.9 770.1,291.1 771.1,291.0 772.2,290.6 773.2,291.5 774.3,290.5 775.3,290.1 776.4,291.1 777.4,290.8 778.5,289.9 779.5,291.8 780.6,290.9 781.6,289.5 782.7,290.5 783.7,290.2 784.7,290.1 785.7,289.6 786.8,291.3 787.8,291.7 788.8,290.7 789.8,291.2 790.8,290.3 791.8,291.1 792.9,290.6 793.9,290.8 794.9,291.3 795.9,289.4 796.9,289.9 797.9,290.3 799.0,290.1 800.0,290.4 801.0,289.6 802.0,291.0 803.0,290.9 804.0,291.0 805.1,290.2 806.1,290.6 807.1,291.4 808.1,290.6 M808.7,298.6 M820.4,286.5 821.4,283.6 822.4,282.8 823.5,279.1 824.5,275.1 825.5,272.7 826.5,269.3 827.6,266.0 828.6,262.5 829.6,260.6 830.7,258.8 831.7,254.9 832.8,258.9 833.8,250.0 834.9,250.4 835.9,248.2 837.0,247.6 838.1,244.1 839.2,241.4 840.4,238.2 841.5,236.3 842.6,234.6 843.8,231.0 845.1,228.1 846.3,225.5 848.1,220.5 849.4,224.2 850.6,222.5 851.9,226.3 853.1,222.0 854.4,223.5 855.6,222.7 856.8,228.6 858.1,220.9 859.3,222.0 860.4,229.9 861.6,221.5 862.8,222.5 863.9,223.6 865.3,227.5 866.7,230.9 867.9,232.6 869.2,232.2 870.4,234.6 871.5,235.2 872.6,234.2 873.7,236.5 874.8,230.8 875.9,240.8 877.0,243.7 878.1,240.3 879.3,243.9 880.4,243.5 881.5,249.4 882.6,250.0 883.7,250.9 884.8,253.7 885.9,251.5 887.0,254.1 888.0,255.6 889.1,258.3 890.1,260.5 891.1,255.7 892.2,260.7 893.2,257.0 894.2,259.5 895.3,260.0 896.3,261.5 897.3,258.2 898.4,262.4 899.4,264.4 900.4,268.6 901.5,265.5 902.5,266.6 903.5,267.7 904.6,269.1 905.6,268.9 906.6,267.5 907.6,270.9 908.6,268.0 909.6,270.6 910.6,270.4 911.7,271.3 912.7,270.4 913.7,269.4 914.7,267.2 915.7,273.6 916.7,273.5 917.8,272.5 918.8,275.4 919.9,274.2 920.9,272.5 922.0,274.8 923.0,276.5 924.1,275.1 925.2,276.9 926.2,279.2 927.3,278.4 928.3,277.4 929.4,277.3 930.4,279.2 931.5,280.0" fill="none" stroke="#dd1212" stroke-width="2.1" stroke-linejoin="round"/>
<line x1="808.1" y1="289.0" x2="820.4" y2="289.0" stroke="#1414d8" stroke-width="1.4"/>
<path d="M646.3,304.0 647.3,303.9 648.3,304.0 649.3,303.9 650.3,303.8 651.3,303.7 652.3,303.5 653.4,303.5 654.4,303.7 655.4,303.3 656.4,303.8 657.4,303.7 658.4,303.3 659.4,302.9 660.4,303.9 661.4,303.5 662.4,303.6 663.4,302.8 664.4,303.1 665.4,303.4 666.4,303.1 667.5,303.0 668.5,303.3 669.5,303.2 670.5,302.3 671.5,302.8 672.5,302.5 673.5,302.2 674.5,302.2 675.5,302.5 676.5,302.5 677.5,302.2 678.5,301.9 679.5,301.4 680.5,301.5 681.6,302.1 682.6,302.2 683.6,301.8 684.6,302.0 685.6,302.1 686.6,301.7 687.6,301.7 688.6,301.6 689.6,301.4 690.7,301.7 691.7,301.9 692.7,302.1 693.7,301.7 694.8,301.8 695.8,301.7 696.8,301.8 697.8,302.2 698.8,301.9 699.9,301.8 700.9,301.6 701.9,301.8 702.9,301.1 704.0,301.7 705.0,301.7 706.0,301.7 707.0,301.8 708.1,301.3 709.1,302.2 710.1,302.1 711.1,301.8 712.1,302.5 713.2,302.0 714.2,302.0 715.2,301.9 716.2,301.5 717.3,302.4 718.3,301.4 719.3,301.7 720.4,302.1 721.4,301.6 722.5,301.9 723.5,301.3 724.6,300.2 725.6,300.0 726.7,300.2 727.7,300.1 728.8,299.7 729.8,300.0 730.9,299.3 731.9,299.5 733.0,299.1 734.0,298.7 735.1,298.6 736.2,298.6 737.2,298.0 738.3,298.0 739.3,296.7 740.4,297.2 741.5,295.1 742.5,295.7 743.6,296.8 744.6,295.8 745.7,296.1 746.8,293.7 747.8,293.9 748.9,294.8 749.9,292.9 751.0,293.8 752.1,293.7 753.1,292.9 754.2,293.3 755.2,292.5 756.3,292.8 757.4,290.9 758.4,291.6 759.5,291.4 760.5,291.6 761.6,290.9 762.7,291.7 763.7,291.2 764.8,291.7 765.8,291.2 766.9,290.6 768.0,290.6 769.0,291.4 770.1,289.5 771.1,291.0 772.2,290.5 773.2,290.4 774.3,290.0 775.3,288.9 776.4,290.3 777.4,288.6 778.5,289.6 779.5,289.7 780.6,288.1 781.6,289.8 782.7,289.0 783.7,289.4 784.7,288.6 785.7,288.2 786.8,289.2 787.8,287.3 788.8,289.8 789.8,287.4 790.8,290.0 791.8,288.5 792.9,289.5 793.9,289.9 794.9,289.6 795.9,289.6 796.9,289.9 797.9,288.3 799.0,289.4 800.0,288.0 801.0,288.4 802.0,288.6 803.0,288.6 804.0,287.8 805.1,288.3 806.1,288.0 807.1,288.7 808.1,289.0 M820.4,289.0 821.5,285.8 822.5,281.3 823.6,279.4 824.6,278.2 825.7,272.4 826.7,269.3 827.8,266.1 828.8,265.2 829.8,263.0 830.9,261.0 831.9,260.9 832.9,259.7 833.9,254.9 835.0,252.5 836.0,252.0 837.0,251.3 838.2,247.7 839.5,249.8 840.7,243.0 841.8,245.2 842.8,242.7 843.9,250.0 844.9,243.2 846.0,247.7 847.0,237.1 848.1,240.2 849.2,238.1 850.3,240.1 851.5,236.3 852.6,234.7 853.7,234.6 854.8,231.8 855.9,231.7 857.1,234.0 858.2,231.4 859.3,233.7 860.5,236.9 861.8,239.2 863.0,243.0 864.1,243.7 865.2,244.9 866.3,245.6 867.4,243.6 868.5,246.7 869.6,249.0 870.6,247.3 871.7,249.8 872.7,246.9 873.8,249.5 874.8,248.9 875.9,250.4 877.0,252.8 878.0,252.1 879.1,256.8 880.1,254.8 881.2,257.9 882.2,258.7 883.3,260.6 884.3,262.1 885.4,262.3 886.4,263.2 887.4,261.2 888.5,266.1 889.5,264.2 890.5,269.4 891.6,266.5 892.6,268.0 893.6,266.9 894.6,269.6 895.6,269.2 896.6,273.5 897.6,269.3 898.7,270.5 899.7,273.7 900.7,269.4 901.7,268.9 902.7,273.7 903.7,273.5 904.8,274.6 905.8,274.5 906.9,273.8 907.9,273.9 909.0,274.6 910.0,275.6 911.1,274.6 912.2,274.8 913.2,277.9 914.3,274.6 915.3,278.4 916.4,279.5 917.4,281.8 918.5,278.1 919.5,279.5 920.5,279.8 921.5,280.5 922.5,279.2 923.5,277.8 924.5,281.8 925.5,280.6 926.5,280.8 927.5,281.5 928.5,281.6 929.5,280.6 930.5,281.6 931.5,281.9" fill="none" stroke="#1414d8" stroke-width="2.1" stroke-linejoin="round"/>
<line x1="692.3" y1="276.4" x2="692.3" y2="293.9" stroke="#000" stroke-width="1.7"/>
<path d="M689.3,290.4 L692.3,294.3 L695.3,290.4" fill="none" stroke="#000" stroke-width="1.9" stroke-linejoin="miter" stroke-miterlimit="6"/>
<line x1="810.6" y1="260.5" x2="810.6" y2="279.0" stroke="#000" stroke-width="1.7"/>
<path d="M807.6,275.5 L810.6,279.4 L813.6,275.5" fill="none" stroke="#000" stroke-width="1.9" stroke-linejoin="miter" stroke-miterlimit="6"/>
<line x1="914.6" y1="220.5" x2="910.0" y2="223.7" stroke="#4a8f2a" stroke-width="2.4"/>
<line x1="907.6" y1="225.4" x2="903.0" y2="228.6" stroke="#4a8f2a" stroke-width="2.4"/>
<line x1="900.7" y1="230.2" x2="896.1" y2="233.5" stroke="#4a8f2a" stroke-width="2.4"/>
<line x1="892.0" y1="236.3" x2="888.3" y2="238.9" stroke="#4a8f2a" stroke-width="2.0"/>
<path d="M889.8,232.5 L887.4,239.5 L894.9,239.7" fill="none" stroke="#4a8f2a" stroke-width="2.4" stroke-linejoin="miter" stroke-miterlimit="8"/>
<line x1="61.7" y1="374.8" x2="347.8" y2="374.8" stroke="#555" stroke-width="1.3"/>
<line x1="347.8" y1="374.8" x2="347.8" y2="475.9" stroke="#777" stroke-width="1.5"/>
<line x1="61.7" y1="475.9" x2="347.8" y2="475.9" stroke="#959595" stroke-width="1.6"/>
<line x1="61.7" y1="374.8" x2="61.7" y2="480.9" stroke="#1e1e1e" stroke-width="1.3"/>
<line x1="60.3" y1="455.1" x2="61.7" y2="455.1" stroke="#444" stroke-width="0.9"/>
<line x1="60.3" y1="463.0" x2="61.7" y2="463.0" stroke="#444" stroke-width="0.9"/>
<line x1="60.3" y1="470.8" x2="61.7" y2="470.8" stroke="#444" stroke-width="0.9"/>
<line x1="60.3" y1="447.2" x2="61.7" y2="447.2" stroke="#444" stroke-width="0.9"/>
<line x1="60.3" y1="439.4" x2="61.7" y2="439.4" stroke="#444" stroke-width="0.9"/>
<line x1="60.3" y1="431.5" x2="61.7" y2="431.5" stroke="#444" stroke-width="0.9"/>
<line x1="60.3" y1="423.6" x2="61.7" y2="423.6" stroke="#444" stroke-width="0.9"/>
<line x1="60.3" y1="415.8" x2="61.7" y2="415.8" stroke="#444" stroke-width="0.9"/>
<line x1="60.3" y1="407.9" x2="61.7" y2="407.9" stroke="#444" stroke-width="0.9"/>
<line x1="60.3" y1="400.0" x2="61.7" y2="400.0" stroke="#444" stroke-width="0.9"/>
<line x1="60.3" y1="392.1" x2="61.7" y2="392.1" stroke="#444" stroke-width="0.9"/>
<line x1="60.3" y1="384.3" x2="61.7" y2="384.3" stroke="#444" stroke-width="0.9"/>
<line x1="60.3" y1="376.4" x2="61.7" y2="376.4" stroke="#444" stroke-width="0.9"/>
<line x1="57.9" y1="455.1" x2="61.7" y2="455.1" stroke="#7a7a7a" stroke-width="1.6"/>
<line x1="57.9" y1="431.5" x2="61.7" y2="431.5" stroke="#7a7a7a" stroke-width="1.6"/>
<line x1="57.9" y1="407.6" x2="61.7" y2="407.6" stroke="#7a7a7a" stroke-width="1.6"/>
<line x1="57.9" y1="383.7" x2="61.7" y2="383.7" stroke="#7a7a7a" stroke-width="1.6"/>
<text x="55.1" y="458.5" font-size="8.0" text-anchor="end" fill="#222" stroke="#222" stroke-width="0.15">0.7</text>
<text x="55.1" y="434.9" font-size="8.0" text-anchor="end" fill="#222" stroke="#222" stroke-width="0.15">1</text>
<text x="55.1" y="411.0" font-size="8.0" text-anchor="end" fill="#222" stroke="#222" stroke-width="0.15">1.3</text>
<text x="55.1" y="387.1" font-size="8.0" text-anchor="end" fill="#222" stroke="#222" stroke-width="0.15">1.6</text>
<line x1="61.7" y1="475.9" x2="61.7" y2="480.7" stroke="#444" stroke-width="1.1"/>
<line x1="82.9" y1="475.9" x2="82.9" y2="478.1" stroke="#444" stroke-width="0.9"/>
<line x1="104.0" y1="475.9" x2="104.0" y2="478.1" stroke="#444" stroke-width="0.9"/>
<line x1="125.2" y1="475.9" x2="125.2" y2="478.1" stroke="#444" stroke-width="0.9"/>
<line x1="146.3" y1="475.9" x2="146.3" y2="480.7" stroke="#444" stroke-width="1.1"/>
<line x1="167.5" y1="475.9" x2="167.5" y2="478.1" stroke="#444" stroke-width="0.9"/>
<line x1="188.6" y1="475.9" x2="188.6" y2="478.1" stroke="#444" stroke-width="0.9"/>
<line x1="209.8" y1="475.9" x2="209.8" y2="478.1" stroke="#444" stroke-width="0.9"/>
<line x1="230.9" y1="475.9" x2="230.9" y2="480.7" stroke="#444" stroke-width="1.1"/>
<line x1="252.1" y1="475.9" x2="252.1" y2="478.1" stroke="#444" stroke-width="0.9"/>
<line x1="273.2" y1="475.9" x2="273.2" y2="478.1" stroke="#444" stroke-width="0.9"/>
<line x1="294.4" y1="475.9" x2="294.4" y2="478.1" stroke="#444" stroke-width="0.9"/>
<line x1="315.5" y1="475.9" x2="315.5" y2="480.7" stroke="#444" stroke-width="1.1"/>
<line x1="336.7" y1="475.9" x2="336.7" y2="478.1" stroke="#444" stroke-width="0.9"/>
<text x="61.7" y="492.4" font-size="8.2" text-anchor="middle" fill="#222" stroke="#222" stroke-width="0.15">0</text>
<text x="146.1" y="492.4" font-size="8.2" text-anchor="middle" fill="#222" stroke="#222" stroke-width="0.15">100</text>
<text x="230.8" y="492.4" font-size="8.2" text-anchor="middle" fill="#222" stroke="#222" stroke-width="0.15">200</text>
<text x="315.5" y="492.4" font-size="8.2" text-anchor="middle" fill="#222" stroke="#222" stroke-width="0.15">300</text>
<text x="205.3" y="502.7" font-size="11" textLength="21.5" lengthAdjust="spacingAndGlyphs" text-anchor="middle" fill="#111" stroke="#111" stroke-width="0.25">Time</text>
<line x1="68.7" y1="388.4" x2="77.9" y2="388.4" stroke="#b8301c" stroke-width="1.9"/>
<line x1="68.7" y1="405.0" x2="77.9" y2="405.0" stroke="#1c26c0" stroke-width="1.9"/>
<text x="81.7" y="392.0" font-size="14.4" textLength="41.3" lengthAdjust="spacingAndGlyphs" fill="#c02a18" stroke="#c02a18" stroke-width="0.5">DMSO</text>
<text x="81.7" y="408.6" font-size="14.4" textLength="18.8" lengthAdjust="spacingAndGlyphs" fill="#1a22c8" stroke="#1a22c8" stroke-width="0.5">CS</text>
<path d="M62.8,468.4 64.0,468.0 65.2,468.0 66.4,468.0 67.6,468.6 68.9,468.0 70.1,468.3 71.3,469.0 72.5,468.0 73.7,468.4 74.9,467.7 76.1,468.2 77.3,468.5 78.5,468.3 79.8,467.7 81.0,468.2 82.2,468.0 83.4,468.0 84.6,468.2 85.8,467.5 87.0,468.0 88.2,467.9 89.4,468.0 90.6,467.5 91.9,468.0 93.1,466.9 94.3,468.0 95.5,467.5 96.7,467.3 97.9,466.9 99.1,467.8 100.3,467.5 101.5,468.0 102.8,467.7 104.0,467.4 105.2,467.5 106.4,466.9 107.6,467.4 108.8,466.7 110.0,467.6 111.3,467.2 112.5,466.8 113.7,466.8 114.9,467.1 116.1,466.8 117.4,467.0 118.6,466.6 119.8,466.3 121.0,466.9 122.2,467.1 123.5,466.9 124.7,466.3 125.9,467.0 127.1,466.6 128.3,466.4 129.5,466.1 130.8,466.4 132.0,467.1 133.2,466.3 134.4,466.8 135.6,465.5 136.9,465.6 138.1,465.9 139.3,466.3 140.5,466.0 141.7,465.7 142.9,465.4 144.2,465.6 145.4,465.7 146.6,465.6 147.8,465.3 149.0,465.3 150.2,465.2 151.5,465.3 152.7,464.9 153.9,465.3 155.1,465.3 156.3,464.8 157.5,464.6 158.8,465.0 160.0,464.5 161.2,463.9 162.4,464.6 163.7,464.7 164.9,464.3 166.1,463.8 167.3,463.2 168.6,463.7 169.8,463.2 171.0,463.4 172.3,462.8 173.6,462.4 174.9,462.4 176.3,461.9 177.6,461.5 178.9,461.5 180.2,460.6 181.5,460.7 182.9,460.1 184.2,460.1 185.5,460.0 186.8,459.5 188.0,459.1 189.3,458.4 190.5,457.7 191.7,457.2 193.0,457.0 194.2,456.0 195.4,455.9 196.7,455.3 197.9,454.7 199.1,454.4 200.3,453.4 201.5,452.3 202.7,451.6 203.9,450.6 205.2,449.2 206.4,448.1 207.6,448.3 208.8,448.2 210.0,446.8 211.2,446.1 212.4,445.5 213.7,444.3 214.9,444.9 216.1,443.9 217.3,442.8 218.5,442.5 219.7,442.1 221.0,441.4 222.2,440.6 223.4,440.2 225.2,437.8 227.0,436.5 228.8,432.9 230.5,430.5 232.3,425.2 234.1,422.5 235.3,419.1 236.6,416.9 237.8,413.3 239.0,411.5 240.2,408.0 241.4,405.3 242.6,402.0 243.8,400.0 245.0,397.5 246.2,396.1 247.5,393.4 248.7,391.0 250.0,389.1 251.3,388.8 252.6,386.0 254.0,385.5 255.5,386.2 256.9,384.4 258.4,384.5 259.9,384.6 261.4,384.7 262.8,386.3 264.3,386.5 265.6,386.2 266.9,387.7 268.2,390.4 269.5,390.9 270.8,390.3 272.1,392.0 273.3,394.2 274.5,394.9 275.7,396.3 277.0,398.3 278.2,398.4 279.4,400.9 280.6,402.0 281.8,402.5 283.0,404.4 284.2,404.7 285.5,407.3 286.7,408.1 287.9,408.6 289.2,412.4 290.4,412.4 291.6,412.5 292.9,413.3 294.2,414.5 295.5,415.2 296.8,415.8 298.0,416.2 299.3,417.3 300.6,416.9 301.9,417.8 303.2,418.5 304.4,418.1 305.7,419.1 306.9,419.7 308.2,419.7 309.4,419.7 310.7,420.0 311.9,420.0 313.2,421.2 314.4,421.4 315.7,422.0 316.9,422.5 318.1,421.9 319.3,423.0 320.5,424.0 321.7,423.6 322.9,422.7 324.1,423.7 325.3,422.9 326.5,424.5 327.7,425.0 328.9,424.6 330.1,424.4 331.3,424.1 332.5,425.3 333.8,424.9 335.0,425.5 336.2,426.7 337.5,425.6 338.8,425.0 340.0,425.9 341.2,427.7 342.5,427.1 343.8,427.5 345.0,427.5" fill="none" stroke="#dd1212" stroke-width="2.1" stroke-linejoin="round"/>
<path d="M62.8,471.0 64.0,471.0 65.2,471.0 66.4,470.9 67.6,471.1 68.9,470.8 70.1,471.4 71.3,471.2 72.5,470.6 73.7,471.1 74.9,471.2 76.1,470.8 77.3,470.6 78.5,470.9 79.8,470.6 81.0,471.1 82.2,471.0 83.4,470.8 84.6,470.8 85.8,470.8 87.0,470.9 88.2,470.1 89.4,470.9 90.6,471.3 91.9,470.9 93.1,470.5 94.3,470.4 95.5,471.2 96.7,470.9 97.9,470.7 99.1,470.6 100.3,470.8 101.5,471.1 102.8,470.6 104.0,470.5 105.2,470.8 106.4,470.7 107.6,470.6 108.8,471.3 110.0,470.9 111.3,470.8 112.5,470.6 113.7,470.6 114.9,470.9 116.1,471.0 117.4,470.6 118.6,470.4 119.8,470.0 121.0,470.6 122.2,470.6 123.5,470.4 124.7,470.8 125.9,470.0 127.1,470.1 128.3,470.2 129.5,470.1 130.8,469.9 132.0,470.3 133.2,469.5 134.4,469.8 135.6,469.6 136.9,469.9 138.1,469.6 139.3,469.8 140.6,469.6 141.8,469.8 143.1,469.6 144.4,469.9 145.6,469.9 146.9,469.0 148.2,468.9 149.4,469.4 150.7,469.2 152.0,468.6 153.2,469.4 154.5,468.8 155.8,468.7 157.0,469.3 158.3,469.0 159.6,468.4 160.8,468.3 162.1,467.2 163.4,467.7 164.7,467.5 165.9,466.5 167.2,466.6 168.5,466.4 169.7,466.3 171.0,465.8 172.3,464.6 173.5,464.4 174.8,464.1 176.1,463.4 177.3,463.3 178.6,463.3 179.9,462.0 181.2,461.6 182.4,460.6 183.7,461.0 185.0,460.3 186.3,459.9 187.6,459.3 188.9,458.7 190.2,458.8 191.4,458.2 192.7,457.7 194.0,456.8 195.3,456.5 196.6,456.1 197.9,455.5 199.1,454.7 200.3,454.4 201.5,453.1 202.7,452.5 203.9,451.5 205.2,451.0 206.4,449.7 207.6,449.0 208.8,447.7 210.0,447.6 211.2,446.8 212.4,446.6 213.7,445.9 214.9,444.6 216.1,444.6 217.3,443.7 218.5,442.6 219.7,442.0 221.0,441.5 222.2,441.2 223.4,440.6 225.2,437.5 227.0,436.0 228.8,432.6 230.5,430.0 232.3,423.9 234.1,421.8 235.3,419.7 236.6,415.4 237.8,412.4 239.0,411.0 240.2,406.2 241.4,403.7 242.6,399.7 243.8,398.4 245.0,397.6 246.2,393.1 247.5,391.7 248.7,389.6 250.0,385.6 251.3,383.6 252.6,382.8 254.1,381.0 255.5,384.0 256.9,381.1 258.4,382.8 259.9,383.4 261.4,385.3 262.8,384.7 264.3,385.7 265.6,387.0 266.9,387.9 268.2,390.1 269.5,391.2 270.8,389.9 272.1,392.5 273.3,394.6 274.5,395.2 275.7,396.1 277.0,396.3 278.2,398.9 279.4,398.8 280.6,401.5 281.8,404.2 283.0,405.9 284.2,405.7 285.5,408.1 286.7,408.1 287.9,409.1 289.2,411.2 290.4,411.5 291.6,414.0 292.9,413.7 294.2,415.6 295.5,415.4 296.8,415.7 298.0,416.9 299.3,417.1 300.6,418.8 301.9,418.9 303.2,419.9 304.4,420.9 305.7,420.9 306.9,421.2 308.2,421.0 309.4,420.8 310.7,421.5 311.9,422.8 313.2,423.5 314.4,423.1 315.7,423.6 316.9,423.7 318.1,424.3 319.3,423.5 320.5,423.9 321.7,424.2 322.9,424.6 324.1,424.2 325.3,425.1 326.5,424.7 327.7,425.2 328.9,425.3 330.1,426.1 331.3,425.9 332.5,426.1 333.8,426.2 335.0,427.0 336.2,426.6 337.5,427.2 338.8,426.3 340.0,427.0 341.2,426.9 342.5,426.3 343.8,427.1 345.0,427.7" fill="none" stroke="#1414d8" stroke-width="2.1" stroke-linejoin="round"/>
<line x1="130.8" y1="438.0" x2="130.8" y2="456.4" stroke="#000" stroke-width="1.7"/>
<path d="M127.8,452.9 L130.8,456.8 L133.8,452.9" fill="none" stroke="#000" stroke-width="1.9" stroke-linejoin="miter" stroke-miterlimit="6"/>
<line x1="210.9" y1="416.8" x2="210.9" y2="435.5" stroke="#000" stroke-width="1.7"/>
<path d="M207.9,432.0 L210.9,435.9 L213.9,432.0" fill="none" stroke="#000" stroke-width="1.9" stroke-linejoin="miter" stroke-miterlimit="6"/>
<line x1="355.2" y1="374.4" x2="637.2" y2="374.4" stroke="#555" stroke-width="1.3"/>
<line x1="637.2" y1="374.4" x2="637.2" y2="476.1" stroke="#777" stroke-width="1.5"/>
<line x1="355.2" y1="476.1" x2="637.2" y2="476.1" stroke="#6a6a6a" stroke-width="1.7"/>
<line x1="355.2" y1="374.4" x2="355.2" y2="481.1" stroke="#1e1e1e" stroke-width="1.3"/>
<line x1="353.8" y1="456.8" x2="355.2" y2="456.8" stroke="#444" stroke-width="0.9"/>
<line x1="353.8" y1="464.4" x2="355.2" y2="464.4" stroke="#444" stroke-width="0.9"/>
<line x1="353.8" y1="472.0" x2="355.2" y2="472.0" stroke="#444" stroke-width="0.9"/>
<line x1="353.8" y1="449.2" x2="355.2" y2="449.2" stroke="#444" stroke-width="0.9"/>
<line x1="353.8" y1="441.6" x2="355.2" y2="441.6" stroke="#444" stroke-width="0.9"/>
<line x1="353.8" y1="434.0" x2="355.2" y2="434.0" stroke="#444" stroke-width="0.9"/>
<line x1="353.8" y1="426.4" x2="355.2" y2="426.4" stroke="#444" stroke-width="0.9"/>
<line x1="353.8" y1="418.8" x2="355.2" y2="418.8" stroke="#444" stroke-width="0.9"/>
<line x1="353.8" y1="411.2" x2="355.2" y2="411.2" stroke="#444" stroke-width="0.9"/>
<line x1="353.8" y1="403.6" x2="355.2" y2="403.6" stroke="#444" stroke-width="0.9"/>
<line x1="353.8" y1="396.0" x2="355.2" y2="396.0" stroke="#444" stroke-width="0.9"/>
<line x1="353.8" y1="388.4" x2="355.2" y2="388.4" stroke="#444" stroke-width="0.9"/>
<line x1="353.8" y1="380.8" x2="355.2" y2="380.8" stroke="#444" stroke-width="0.9"/>
<line x1="351.4" y1="456.8" x2="355.2" y2="456.8" stroke="#7a7a7a" stroke-width="1.6"/>
<line x1="351.4" y1="434.4" x2="355.2" y2="434.4" stroke="#7a7a7a" stroke-width="1.6"/>
<line x1="351.4" y1="411.2" x2="355.2" y2="411.2" stroke="#7a7a7a" stroke-width="1.6"/>
<line x1="351.4" y1="388.5" x2="355.2" y2="388.5" stroke="#7a7a7a" stroke-width="1.6"/>
<line x1="355.3" y1="476.1" x2="355.3" y2="480.9" stroke="#444" stroke-width="1.1"/>
<line x1="375.4" y1="476.1" x2="375.4" y2="478.3" stroke="#444" stroke-width="0.9"/>
<line x1="395.6" y1="476.1" x2="395.6" y2="478.3" stroke="#444" stroke-width="0.9"/>
<line x1="415.8" y1="476.1" x2="415.8" y2="478.3" stroke="#444" stroke-width="0.9"/>
<line x1="435.9" y1="476.1" x2="435.9" y2="480.9" stroke="#444" stroke-width="1.1"/>
<line x1="456.1" y1="476.1" x2="456.1" y2="478.3" stroke="#444" stroke-width="0.9"/>
<line x1="476.2" y1="476.1" x2="476.2" y2="478.3" stroke="#444" stroke-width="0.9"/>
<line x1="496.4" y1="476.1" x2="496.4" y2="478.3" stroke="#444" stroke-width="0.9"/>
<line x1="516.5" y1="476.1" x2="516.5" y2="480.9" stroke="#444" stroke-width="1.1"/>
<line x1="536.7" y1="476.1" x2="536.7" y2="478.3" stroke="#444" stroke-width="0.9"/>
<line x1="556.8" y1="476.1" x2="556.8" y2="478.3" stroke="#444" stroke-width="0.9"/>
<line x1="577.0" y1="476.1" x2="577.0" y2="478.3" stroke="#444" stroke-width="0.9"/>
<line x1="597.1" y1="476.1" x2="597.1" y2="480.9" stroke="#444" stroke-width="1.1"/>
<line x1="617.2" y1="476.1" x2="617.2" y2="478.3" stroke="#444" stroke-width="0.9"/>
<text x="355.3" y="492.6" font-size="8.2" text-anchor="middle" fill="#222" stroke="#222" stroke-width="0.15">0</text>
<text x="436.3" y="492.6" font-size="8.2" text-anchor="middle" fill="#222" stroke="#222" stroke-width="0.15">100</text>
<text x="516.6" y="492.6" font-size="8.2" text-anchor="middle" fill="#222" stroke="#222" stroke-width="0.15">200</text>
<text x="597.1" y="492.6" font-size="8.2" text-anchor="middle" fill="#222" stroke="#222" stroke-width="0.15">300</text>
<text x="496.6" y="502.9" font-size="11" textLength="21.5" lengthAdjust="spacingAndGlyphs" text-anchor="middle" fill="#111" stroke="#111" stroke-width="0.25">Time</text>
<line x1="361.0" y1="388.5" x2="370.2" y2="388.5" stroke="#b8301c" stroke-width="1.9"/>
<line x1="361.0" y1="404.5" x2="370.2" y2="404.5" stroke="#1c26c0" stroke-width="1.9"/>
<text x="374.0" y="392.1" font-size="14.4" textLength="41.3" lengthAdjust="spacingAndGlyphs" fill="#c02a18" stroke="#c02a18" stroke-width="0.5">DMSO</text>
<text x="374.0" y="408.1" font-size="14.4" textLength="18.8" lengthAdjust="spacingAndGlyphs" fill="#1a22c8" stroke="#1a22c8" stroke-width="0.5">CS</text>
<path d="M356.2,469.8 357.5,470.0 358.8,469.3 360.1,469.6 361.4,469.5 362.8,469.6 364.1,469.3 365.4,468.7 366.7,468.8 368.0,468.4 369.3,468.5 370.6,468.4 371.8,469.1 373.1,468.5 374.4,468.2 375.6,468.2 376.9,468.1 378.1,468.5 379.4,468.1 380.7,468.2 381.9,468.1 383.2,467.9 384.4,468.3 385.7,467.9 387.0,468.0 388.2,468.7 389.5,468.2 390.3,467.4 391.5,468.0 392.8,467.6 394.0,467.0 395.3,467.2 396.5,467.7 397.7,467.3 399.0,467.0 400.2,467.6 401.5,467.4 402.7,467.4 403.9,467.3 405.2,467.5 406.4,467.0 407.7,467.2 408.9,467.4 410.1,466.9 411.4,466.7 412.6,466.9 413.9,466.7 415.1,467.2 416.3,466.4 417.6,467.1 418.8,467.0 420.1,466.7 421.3,467.2 422.5,467.0 423.8,467.0 425.0,466.9 426.3,467.1 427.5,466.6 428.3,465.9 429.6,466.1 430.8,465.7 432.1,465.9 433.3,465.9 434.6,465.5 435.8,465.6 437.1,465.5 438.3,465.5 439.6,465.4 440.8,464.6 442.1,464.4 443.3,464.8 444.6,464.5 445.8,464.3 447.1,464.6 448.3,464.8 449.6,464.2 450.8,464.7 452.1,464.1 453.3,464.2 454.6,463.6 455.8,463.9 457.1,464.2 458.4,463.5 459.6,462.5 460.9,462.7 462.2,462.6 463.5,462.4 464.7,460.9 466.0,461.8 467.2,460.9 468.4,461.1 469.6,460.2 470.9,459.1 472.1,458.5 473.3,457.9 474.5,457.4 475.7,457.5 476.9,456.6 478.2,455.5 479.4,455.3 480.6,454.3 481.8,453.9 483.1,454.2 484.3,453.3 485.6,451.3 486.9,450.5 488.1,449.8 489.4,448.8 490.7,448.3 492.0,447.1 493.2,446.3 494.5,446.0 495.8,444.9 497.1,445.6 498.4,445.3 499.8,444.5 501.1,444.1 502.4,444.9 503.7,443.4 505.0,442.8 506.2,442.5 507.5,442.4 508.8,442.2 510.0,440.9 511.2,441.0 512.5,440.8 514.8,439.5 516.1,435.2 517.5,433.8 518.8,428.9 520.4,425.3 521.9,421.7 523.5,417.0 525.1,411.5 526.7,407.9 528.3,405.1 529.7,400.2 531.0,398.5 532.4,393.8 533.8,390.9 535.4,387.4 537.0,384.5 538.3,381.9 539.7,382.6 541.0,381.3 542.3,381.9 543.5,383.1 544.8,383.5 546.0,385.1 547.3,386.9 548.6,388.5 550.0,390.1 551.3,389.4 552.6,390.2 554.0,392.8 555.3,394.0 556.6,394.9 557.8,397.7 559.1,398.2 560.3,399.9 561.6,402.0 563.0,403.5 564.3,403.5 565.7,406.3 567.0,405.7 568.4,408.0 569.7,408.1 571.1,410.7 572.4,410.8 573.6,412.0 574.9,413.8 576.2,413.5 577.5,414.5 578.7,415.5 580.0,415.6 581.3,416.7 582.5,418.2 583.8,417.8 585.1,417.6 586.4,418.9 587.7,419.0 589.0,419.6 590.3,420.8 591.6,420.6 592.9,421.2 594.2,421.6 595.5,422.2 596.8,421.5 598.1,422.6 599.3,422.4 600.5,423.4 601.7,422.6 603.0,422.9 604.2,423.5 605.4,424.9 606.6,424.4 607.8,426.1 609.0,425.4 610.3,425.3 611.5,425.1 612.7,426.4 613.9,426.5 615.2,425.4 616.4,426.5 617.7,426.8 618.9,426.7 620.2,427.3 621.5,426.7 622.7,427.1 624.0,427.3 625.2,427.7 626.5,428.7 627.7,427.7 629.0,428.0 630.3,429.3 631.5,430.2 632.8,430.5 634.0,429.5 635.3,429.7" fill="none" stroke="#dd1212" stroke-width="2.1" stroke-linejoin="round"/>
<path d="M356.2,471.7 357.4,472.1 358.7,471.6 359.9,471.1 361.1,471.5 362.4,471.9 363.6,470.8 364.8,471.6 366.1,471.7 367.3,470.9 368.5,470.6 369.8,470.9 371.0,470.8 372.2,471.2 373.5,470.2 374.7,471.0 375.9,471.2 377.2,471.2 378.4,470.6 379.6,470.3 380.9,470.6 382.1,470.4 383.3,470.6 384.6,470.3 385.8,470.4 387.0,470.1 388.3,470.0 389.5,470.1 391.3,468.7 392.5,468.6 393.7,468.1 394.9,468.5 396.1,468.1 397.3,468.3 398.5,468.4 399.7,468.0 401.0,469.0 402.2,468.8 403.4,468.3 404.6,468.6 405.8,469.0 407.0,469.1 408.2,468.9 409.4,468.9 410.6,468.8 411.8,469.2 413.0,468.6 414.2,468.8 415.4,468.9 416.6,468.8 417.8,468.8 419.1,468.5 420.3,469.1 421.5,468.9 422.7,469.4 423.9,468.8 425.1,469.3 426.3,468.9 427.5,469.0 428.5,467.2 429.7,466.6 431.0,467.1 432.2,466.7 433.5,467.6 434.7,467.5 435.9,467.2 437.2,467.4 438.4,467.7 439.7,467.3 440.9,467.3 442.1,467.3 443.4,467.2 444.6,466.6 445.9,467.2 447.1,466.7 448.3,466.4 449.6,466.4 450.8,466.8 452.1,466.7 453.3,466.6 454.6,466.5 455.8,465.8 457.1,465.2 458.4,464.8 459.6,465.1 460.9,463.8 462.2,463.7 463.5,463.7 464.7,462.6 466.0,462.6 467.2,462.0 468.4,461.3 469.6,460.7 470.9,460.0 472.1,459.5 473.3,459.1 474.5,458.4 475.7,457.4 476.9,457.5 478.2,456.5 479.4,456.5 480.6,455.2 481.8,454.7 483.1,454.4 484.3,452.7 485.6,451.6 486.9,451.3 488.1,450.2 489.4,449.8 490.7,448.9 492.0,447.8 493.2,446.5 494.5,446.0 495.8,445.6 497.1,444.8 498.4,444.6 499.8,443.7 501.1,443.6 502.4,443.3 503.7,442.3 505.0,442.5 506.5,442.3 507.9,441.8 509.4,442.2 510.9,441.6 512.2,440.0 513.5,438.3 514.8,437.6 516.1,433.8 517.5,431.2 518.8,426.5 520.4,422.3 521.9,418.6 523.5,414.6 525.1,408.4 526.7,405.2 528.3,400.4 529.6,395.5 531.0,393.7 532.3,390.1 533.6,387.9 534.8,388.5 536.1,387.3 537.3,387.9 538.6,387.7 540.0,387.8 541.4,390.0 542.8,392.0 544.2,392.4 545.5,393.6 546.7,394.6 548.0,394.7 549.2,398.5 550.5,397.2 551.8,398.9 553.1,399.9 554.5,402.5 555.8,403.1 557.1,405.1 558.4,406.7 559.7,407.7 561.1,410.0 562.4,411.3 563.7,412.6 565.1,412.1 566.4,414.6 567.6,416.6 568.8,417.3 570.1,417.5 571.3,418.6 572.5,418.5 573.7,419.8 575.0,421.6 576.2,420.6 577.4,421.8 578.7,421.7 579.9,422.2 581.2,424.1 582.5,423.8 583.8,424.5 585.0,423.9 586.3,424.4 587.6,425.2 588.8,426.4 590.1,425.7 591.3,426.9 592.5,426.4 593.8,425.7 595.0,427.1 596.2,426.4 597.4,426.7 598.7,426.1 599.9,427.6 601.1,427.7 602.3,428.1 603.6,429.0 604.8,431.1 606.0,429.7 607.2,430.3 608.4,430.4 609.6,429.7 610.9,430.5 612.1,430.6 613.3,431.0 614.5,431.2 615.7,431.3 616.9,431.8 618.2,432.9 619.4,432.2 620.6,432.9 621.8,432.9 623.0,432.7 624.3,433.5 625.5,433.4 626.7,434.5 627.9,433.6 629.2,434.0 630.4,434.4 631.6,434.4 632.8,434.4 634.1,434.7 635.3,434.9" fill="none" stroke="#1414d8" stroke-width="2.1" stroke-linejoin="round"/>
<line x1="424.2" y1="440.2" x2="424.2" y2="458.9" stroke="#000" stroke-width="1.7"/>
<path d="M421.2,455.4 L424.2,459.3 L427.2,455.4" fill="none" stroke="#000" stroke-width="1.9" stroke-linejoin="miter" stroke-miterlimit="6"/>
<line x1="495.9" y1="416.8" x2="495.9" y2="435.5" stroke="#000" stroke-width="1.7"/>
<path d="M492.9,432.0 L495.9,435.9 L498.9,432.0" fill="none" stroke="#000" stroke-width="1.9" stroke-linejoin="miter" stroke-miterlimit="6"/>
<line x1="604.4" y1="380.5" x2="599.8" y2="383.7" stroke="#4a8f2a" stroke-width="2.4"/>
<line x1="597.5" y1="385.4" x2="592.9" y2="388.6" stroke="#4a8f2a" stroke-width="2.4"/>
<line x1="590.5" y1="390.3" x2="585.9" y2="393.5" stroke="#4a8f2a" stroke-width="2.4"/>
<line x1="582.0" y1="396.3" x2="578.3" y2="398.9" stroke="#4a8f2a" stroke-width="2.0"/>
<path d="M579.8,392.4 L577.4,399.5 L584.9,399.6" fill="none" stroke="#4a8f2a" stroke-width="2.4" stroke-linejoin="miter" stroke-miterlimit="8"/>
<line x1="644.8" y1="374.1" x2="934.8" y2="374.1" stroke="#555" stroke-width="1.3"/>
<line x1="934.8" y1="374.1" x2="934.8" y2="475.6" stroke="#777" stroke-width="1.5"/>
<line x1="644.8" y1="475.6" x2="934.8" y2="475.6" stroke="#555555" stroke-width="1.5"/>
<line x1="644.8" y1="374.1" x2="644.8" y2="480.6" stroke="#1e1e1e" stroke-width="1.3"/>
<line x1="643.4" y1="473.0" x2="644.8" y2="473.0" stroke="#444" stroke-width="0.9"/>
<line x1="643.4" y1="468.9" x2="644.8" y2="468.9" stroke="#444" stroke-width="0.9"/>
<line x1="643.4" y1="464.7" x2="644.8" y2="464.7" stroke="#444" stroke-width="0.9"/>
<line x1="643.4" y1="460.6" x2="644.8" y2="460.6" stroke="#444" stroke-width="0.9"/>
<line x1="643.4" y1="456.4" x2="644.8" y2="456.4" stroke="#444" stroke-width="0.9"/>
<line x1="643.4" y1="452.3" x2="644.8" y2="452.3" stroke="#444" stroke-width="0.9"/>
<line x1="643.4" y1="448.1" x2="644.8" y2="448.1" stroke="#444" stroke-width="0.9"/>
<line x1="643.4" y1="444.0" x2="644.8" y2="444.0" stroke="#444" stroke-width="0.9"/>
<line x1="643.4" y1="439.8" x2="644.8" y2="439.8" stroke="#444" stroke-width="0.9"/>
<line x1="643.4" y1="435.7" x2="644.8" y2="435.7" stroke="#444" stroke-width="0.9"/>
<line x1="643.4" y1="431.5" x2="644.8" y2="431.5" stroke="#444" stroke-width="0.9"/>
<line x1="643.4" y1="427.4" x2="644.8" y2="427.4" stroke="#444" stroke-width="0.9"/>
<line x1="643.4" y1="423.2" x2="644.8" y2="423.2" stroke="#444" stroke-width="0.9"/>
<line x1="643.4" y1="419.1" x2="644.8" y2="419.1" stroke="#444" stroke-width="0.9"/>
<line x1="643.4" y1="414.9" x2="644.8" y2="414.9" stroke="#444" stroke-width="0.9"/>
<line x1="643.4" y1="410.8" x2="644.8" y2="410.8" stroke="#444" stroke-width="0.9"/>
<line x1="643.4" y1="406.6" x2="644.8" y2="406.6" stroke="#444" stroke-width="0.9"/>
<line x1="643.4" y1="402.5" x2="644.8" y2="402.5" stroke="#444" stroke-width="0.9"/>
<line x1="643.4" y1="398.3" x2="644.8" y2="398.3" stroke="#444" stroke-width="0.9"/>
<line x1="643.4" y1="394.2" x2="644.8" y2="394.2" stroke="#444" stroke-width="0.9"/>
<line x1="643.4" y1="390.0" x2="644.8" y2="390.0" stroke="#444" stroke-width="0.9"/>
<line x1="643.4" y1="385.9" x2="644.8" y2="385.9" stroke="#444" stroke-width="0.9"/>
<line x1="643.4" y1="381.7" x2="644.8" y2="381.7" stroke="#444" stroke-width="0.9"/>
<line x1="643.4" y1="377.6" x2="644.8" y2="377.6" stroke="#444" stroke-width="0.9"/>
<line x1="641.0" y1="473.0" x2="644.8" y2="473.0" stroke="#7a7a7a" stroke-width="1.6"/>
<line x1="641.0" y1="451.7" x2="644.8" y2="451.7" stroke="#7a7a7a" stroke-width="1.6"/>
<line x1="641.0" y1="430.6" x2="644.8" y2="430.6" stroke="#7a7a7a" stroke-width="1.6"/>
<line x1="641.0" y1="409.5" x2="644.8" y2="409.5" stroke="#7a7a7a" stroke-width="1.6"/>
<line x1="641.0" y1="388.9" x2="644.8" y2="388.9" stroke="#7a7a7a" stroke-width="1.6"/>
<line x1="644.7" y1="475.6" x2="644.7" y2="480.4" stroke="#444" stroke-width="1.1"/>
<line x1="665.4" y1="475.6" x2="665.4" y2="477.8" stroke="#444" stroke-width="0.9"/>
<line x1="686.1" y1="475.6" x2="686.1" y2="477.8" stroke="#444" stroke-width="0.9"/>
<line x1="706.8" y1="475.6" x2="706.8" y2="477.8" stroke="#444" stroke-width="0.9"/>
<line x1="727.5" y1="475.6" x2="727.5" y2="480.4" stroke="#444" stroke-width="1.1"/>
<line x1="748.2" y1="475.6" x2="748.2" y2="477.8" stroke="#444" stroke-width="0.9"/>
<line x1="769.0" y1="475.6" x2="769.0" y2="477.8" stroke="#444" stroke-width="0.9"/>
<line x1="789.7" y1="475.6" x2="789.7" y2="477.8" stroke="#444" stroke-width="0.9"/>
<line x1="810.4" y1="475.6" x2="810.4" y2="480.4" stroke="#444" stroke-width="1.1"/>
<line x1="831.1" y1="475.6" x2="831.1" y2="477.8" stroke="#444" stroke-width="0.9"/>
<line x1="851.8" y1="475.6" x2="851.8" y2="477.8" stroke="#444" stroke-width="0.9"/>
<line x1="872.5" y1="475.6" x2="872.5" y2="477.8" stroke="#444" stroke-width="0.9"/>
<line x1="893.2" y1="475.6" x2="893.2" y2="480.4" stroke="#444" stroke-width="1.1"/>
<line x1="913.9" y1="475.6" x2="913.9" y2="477.8" stroke="#444" stroke-width="0.9"/>
<text x="644.7" y="492.1" font-size="8.2" text-anchor="middle" fill="#222" stroke="#222" stroke-width="0.15">0</text>
<text x="728.0" y="492.1" font-size="8.2" text-anchor="middle" fill="#222" stroke="#222" stroke-width="0.15">100</text>
<text x="810.4" y="492.1" font-size="8.2" text-anchor="middle" fill="#222" stroke="#222" stroke-width="0.15">200</text>
<text x="893.2" y="492.1" font-size="8.2" text-anchor="middle" fill="#222" stroke="#222" stroke-width="0.15">300</text>
<text x="789.7" y="502.4" font-size="11" textLength="21.5" lengthAdjust="spacingAndGlyphs" text-anchor="middle" fill="#111" stroke="#111" stroke-width="0.25">Time</text>
<line x1="652.1" y1="386.0" x2="661.3" y2="386.0" stroke="#b8301c" stroke-width="1.9"/>
<line x1="652.1" y1="402.6" x2="661.3" y2="402.6" stroke="#1c26c0" stroke-width="1.9"/>
<text x="665.1" y="389.6" font-size="14.4" textLength="41.3" lengthAdjust="spacingAndGlyphs" fill="#c02a18" stroke="#c02a18" stroke-width="0.5">DMSO</text>
<text x="665.1" y="406.2" font-size="14.4" textLength="18.8" lengthAdjust="spacingAndGlyphs" fill="#1a22c8" stroke="#1a22c8" stroke-width="0.5">CS</text>
<line x1="808.1" y1="455.0" x2="808.7" y2="470.9" stroke="#dd1212" stroke-width="1.4"/>
<line x1="808.7" y1="470.9" x2="820.1" y2="448.7" stroke="#dd1212" stroke-width="1.4"/>
<path d="M646.3,470.9 647.5,470.8 648.7,471.1 649.9,470.8 651.2,470.5 652.4,470.5 653.6,470.2 654.8,470.5 656.0,470.7 657.2,470.1 658.4,470.7 659.7,470.4 660.9,470.2 662.1,470.1 663.3,470.4 664.5,470.7 665.7,470.8 667.0,470.8 668.2,470.0 669.4,470.6 670.6,469.8 671.8,470.2 673.0,470.2 674.2,470.2 675.5,470.6 676.7,470.6 677.9,470.0 679.1,470.0 680.3,469.7 681.5,470.4 682.7,470.2 684.0,470.3 685.2,470.1 686.4,470.2 687.6,469.9 688.8,470.4 690.0,470.3 691.3,470.2 692.5,469.9 693.7,470.2 694.9,470.0 696.1,470.0 697.4,468.6 698.6,469.1 699.8,469.2 701.0,469.0 702.2,468.5 703.5,467.9 704.7,468.9 705.9,468.8 707.1,468.1 708.3,468.2 709.5,468.6 710.8,468.2 712.0,468.0 713.2,467.4 714.4,467.7 715.6,468.1 716.9,467.6 718.1,467.8 719.3,467.7 720.5,467.6 721.7,467.5 722.9,466.9 724.2,466.8 725.4,466.8 726.6,466.4 727.8,466.6 729.0,465.7 730.2,464.7 731.5,465.0 732.7,464.7 733.9,464.3 735.1,464.5 736.3,463.7 737.5,463.7 738.8,463.2 740.0,463.2 741.2,463.3 742.4,462.3 743.7,462.1 744.9,462.0 746.1,461.3 747.3,461.4 748.6,460.7 749.8,460.7 751.0,460.4 752.2,460.6 753.4,460.5 754.7,459.5 755.9,459.8 757.1,459.2 758.3,458.5 759.6,460.3 760.8,458.3 762.0,458.6 763.2,457.9 764.5,457.5 765.7,457.2 766.9,457.2 768.1,456.8 769.3,456.3 770.5,456.6 771.8,456.1 773.0,456.5 774.2,456.6 775.4,456.2 776.6,456.1 777.8,456.6 779.1,456.4 780.3,455.8 781.5,455.4 782.7,455.6 783.9,456.1 785.1,455.4 786.3,455.6 787.5,455.7 788.7,455.1 790.0,455.1 791.2,455.6 792.4,455.3 793.6,454.7 794.8,454.7 796.0,455.0 797.2,455.4 798.4,456.0 799.6,455.5 800.8,455.2 802.1,455.5 803.3,455.4 804.5,455.7 805.7,455.1 806.9,456.1 808.1,455.0 M808.7,470.9 M820.1,448.7 821.5,447.1 822.8,444.1 824.2,441.4 825.5,438.7 826.9,435.9 828.2,432.9 829.6,430.5 830.9,428.2 832.2,425.5 833.4,422.5 834.7,420.5 836.0,417.0 837.6,411.9 839.1,408.7 840.7,404.3 842.0,401.5 843.4,396.6 844.7,392.4 846.0,389.9 847.4,385.9 848.7,384.5 850.3,384.3 851.8,383.6 853.4,381.7 854.6,382.3 855.8,380.8 857.0,381.6 858.2,381.0 859.8,382.7 861.3,381.6 862.9,383.7 864.2,385.1 865.5,386.4 866.7,387.5 868.0,390.2 869.3,390.1 870.6,390.0 871.8,393.4 873.1,394.2 874.3,395.7 875.6,397.2 876.9,399.5 878.2,401.3 879.4,403.8 880.7,405.3 882.0,406.7 883.3,408.7 884.6,410.5 886.0,411.5 887.3,413.1 888.6,415.6 889.9,417.0 891.1,418.9 892.4,420.3 893.6,421.9 894.8,422.6 896.1,423.0 897.3,425.4 898.5,426.1 899.8,428.6 901.0,428.1 902.3,430.2 903.5,429.8 904.8,430.5 906.1,431.7 907.4,432.8 908.6,433.7 909.9,434.3 911.2,435.1 912.4,434.9 913.7,436.0 914.9,437.1 916.2,436.6 917.4,436.9 918.6,437.1 919.9,438.2 921.1,438.3 922.3,438.3 923.6,439.1 924.8,439.2 926.1,439.4 927.4,439.7 928.8,440.5 930.1,441.0 931.4,441.6 932.7,442.4" fill="none" stroke="#dd1212" stroke-width="2.1" stroke-linejoin="round"/>
<line x1="808.1" y1="455.0" x2="820.1" y2="455.0" stroke="#1414d8" stroke-width="1.4"/>
<path d="M646.3,470.9 647.5,471.3 648.7,471.1 649.9,470.9 651.2,471.1 652.4,471.1 653.6,471.2 654.8,471.0 656.0,471.1 657.2,471.0 658.4,470.8 659.7,471.0 660.9,470.6 662.1,470.5 663.3,469.9 664.5,470.6 665.7,470.9 667.0,470.9 668.2,470.7 669.4,470.5 670.6,471.2 671.8,470.4 673.0,470.7 674.2,470.1 675.5,469.6 676.7,470.1 677.9,470.1 679.1,470.5 680.3,470.8 681.5,470.2 682.7,470.7 684.0,470.4 685.2,469.4 686.4,469.7 687.6,469.9 688.8,469.7 690.0,469.8 691.3,469.1 692.5,469.6 693.7,469.5 694.9,469.3 696.1,468.8 697.4,469.5 698.6,469.0 699.8,469.2 701.0,469.1 702.2,469.2 703.5,469.2 704.7,469.2 705.9,469.0 707.1,468.5 708.3,469.1 709.5,468.4 710.8,469.2 712.0,468.1 713.2,468.4 714.4,468.1 715.6,468.2 716.9,468.2 718.1,468.0 719.3,467.7 720.5,467.6 721.7,467.8 722.9,466.7 724.2,466.9 725.4,466.8 726.6,465.9 727.8,466.3 729.0,465.6 730.2,465.5 731.5,465.3 732.7,464.4 733.9,464.6 735.1,464.5 736.3,464.4 737.5,463.6 738.8,463.4 740.0,463.5 741.2,462.9 742.4,462.6 743.7,462.3 744.9,461.8 746.1,461.7 747.3,460.9 748.6,462.2 749.8,461.1 751.0,460.4 752.2,459.9 753.4,459.8 754.7,459.3 755.9,459.0 757.1,459.1 758.3,458.4 759.6,458.6 760.8,458.2 762.0,458.4 763.2,457.7 764.5,457.3 765.7,457.3 766.9,457.2 768.1,457.2 769.3,456.8 770.5,456.7 771.8,456.2 773.0,456.6 774.2,456.1 775.4,456.1 776.6,456.3 777.8,455.6 779.1,457.1 780.3,456.0 781.5,456.6 782.7,455.6 783.9,455.3 785.1,455.1 786.3,453.8 787.5,455.6 788.7,455.5 790.0,455.5 791.2,455.2 792.4,454.5 793.6,454.9 794.8,455.1 796.0,455.0 797.2,455.4 798.4,454.8 799.6,454.7 800.8,454.0 802.1,455.2 803.3,455.3 804.5,455.7 805.7,454.9 806.9,454.9 808.1,455.0 M820.1,455.0 822.0,450.0 823.3,447.0 824.5,444.2 825.8,442.5 827.1,439.5 828.3,436.4 829.6,433.7 830.9,431.4 832.3,428.3 833.6,424.4 834.9,423.2 836.3,418.3 837.6,416.2 839.2,412.8 840.7,408.1 842.3,405.9 843.6,403.9 844.9,401.3 846.1,398.4 847.4,395.9 848.7,395.6 850.1,394.1 851.5,393.5 853.0,392.6 854.4,391.7 855.8,391.6 857.2,392.7 858.6,394.1 860.1,395.6 861.5,396.1 862.9,394.8 864.2,397.4 865.5,399.7 866.7,400.0 868.0,401.9 869.3,402.0 870.6,404.7 871.8,406.4 873.1,406.1 874.3,408.8 875.6,409.1 876.9,411.2 878.2,411.1 879.4,413.8 880.7,416.6 882.0,417.0 883.3,419.9 884.6,420.5 886.0,421.5 887.3,422.5 888.6,424.0 889.9,424.9 891.1,426.4 892.4,427.9 893.6,428.3 894.8,429.6 896.1,431.1 897.3,430.2 898.5,430.4 899.8,432.4 901.0,432.9 902.3,433.2 903.5,434.0 904.8,433.9 906.1,435.4 907.4,435.3 908.6,437.7 909.9,437.7 911.2,438.7 912.4,440.1 913.7,439.2 915.0,440.4 916.2,440.3 917.5,440.7 918.8,439.9 920.0,442.8 921.3,442.1 922.6,441.7 923.9,442.7 925.1,443.0 926.4,443.2 927.7,443.5 928.9,443.9 930.2,443.9 931.4,444.5 932.7,444.8" fill="none" stroke="#1414d8" stroke-width="2.1" stroke-linejoin="round"/>
<line x1="692.3" y1="439.1" x2="692.3" y2="457.3" stroke="#000" stroke-width="1.7"/>
<path d="M689.3,453.8 L692.3,457.7 L695.3,453.8" fill="none" stroke="#000" stroke-width="1.9" stroke-linejoin="miter" stroke-miterlimit="6"/>
<line x1="810.6" y1="423.3" x2="810.6" y2="441.4" stroke="#000" stroke-width="1.7"/>
<path d="M807.6,437.9 L810.6,441.8 L813.6,437.9" fill="none" stroke="#000" stroke-width="1.9" stroke-linejoin="miter" stroke-miterlimit="6"/>
<line x1="914.4" y1="378.5" x2="909.8" y2="381.7" stroke="#4a8f2a" stroke-width="2.4"/>
<line x1="907.5" y1="383.4" x2="902.9" y2="386.6" stroke="#4a8f2a" stroke-width="2.4"/>
<line x1="900.5" y1="388.3" x2="895.9" y2="391.5" stroke="#4a8f2a" stroke-width="2.4"/>
<line x1="892.0" y1="394.3" x2="888.3" y2="396.9" stroke="#4a8f2a" stroke-width="2.0"/>
<path d="M889.8,390.4 L887.4,397.5 L894.9,397.6" fill="none" stroke="#4a8f2a" stroke-width="2.4" stroke-linejoin="miter" stroke-miterlimit="8"/>
<text x="12.5" y="23.1" font-size="24" font-weight="bold" textLength="12.2" lengthAdjust="spacingAndGlyphs" fill="#000">a</text>
<text x="12.2" y="206.1" font-size="24.3" font-weight="bold" text-anchor="start" fill="#000" >b</text>
<text x="12.3" y="367.8" font-size="24.5" font-weight="bold" text-anchor="start" fill="#000" >c</text>
<text x="201.2" y="20.3" font-size="13.7" font-weight="bold" text-anchor="middle" fill="#000" stroke="#000" stroke-width="0.2">0 µM</text>
<text x="482.5" y="20.3" font-size="13.7" font-weight="bold" text-anchor="middle" fill="#000" stroke="#000" stroke-width="0.2">5 µM</text>
<text x="783.5" y="20.3" font-size="13.7" font-weight="bold" text-anchor="middle" fill="#000" stroke="#000" stroke-width="0.2">10 µM</text>
<line x1="67.5" y1="26" x2="340.6" y2="26" stroke="#000" stroke-width="2"/>
<line x1="361.3" y1="26" x2="634.5" y2="26" stroke="#000" stroke-width="2"/>
<line x1="652.6" y1="26" x2="926.0" y2="26" stroke="#000" stroke-width="2"/>
<text x="201.2" y="40.8" font-size="13.6" font-weight="bold" text-anchor="middle" fill="#000" stroke="#000" stroke-width="0.2">CD4<tspan font-size="9.4" dy="-4.0">+</tspan><tspan dy="4.0"> SP</tspan></text>
<text x="483.5" y="40.8" font-size="13.6" font-weight="bold" text-anchor="middle" fill="#000" stroke="#000" stroke-width="0.2">CD4<tspan font-size="9.4" dy="-4.0">+</tspan><tspan dy="4.0"> SP</tspan></text>
<text x="784.8" y="40.8" font-size="13.6" font-weight="bold" text-anchor="middle" fill="#000" stroke="#000" stroke-width="0.2">CD4<tspan font-size="9.4" dy="-4.0">+</tspan><tspan dy="4.0"> SP</tspan></text>
<text x="202" y="206.9" font-size="13.6" font-weight="bold" text-anchor="middle" fill="#000" stroke="#000" stroke-width="0.2">CD8<tspan font-size="9.4" dy="-4.0">+</tspan><tspan dy="4.0"> SP</tspan></text>
<text x="483.8" y="206.9" font-size="13.6" font-weight="bold" text-anchor="middle" fill="#000" stroke="#000" stroke-width="0.2">CD8<tspan font-size="9.4" dy="-4.0">+</tspan><tspan dy="4.0"> SP</tspan></text>
<text x="789" y="206.9" font-size="13.6" font-weight="bold" text-anchor="middle" fill="#000" stroke="#000" stroke-width="0.2">CD8<tspan font-size="9.4" dy="-4.0">+</tspan><tspan dy="4.0"> SP</tspan></text>
<text x="203.6" y="366.7" font-size="13.6" font-weight="bold" text-anchor="middle" fill="#000" stroke="#000" stroke-width="0.2">CD4<tspan font-size="9.4" dy="-4.0">+</tspan><tspan dy="4.0">CD8</tspan><tspan font-size="9.4" dy="-4.0">+</tspan><tspan dy="4.0"> DP</tspan></text>
<text x="485" y="366.7" font-size="13.6" font-weight="bold" text-anchor="middle" fill="#000" stroke="#000" stroke-width="0.2">CD4<tspan font-size="9.4" dy="-4.0">+</tspan><tspan dy="4.0">CD8</tspan><tspan font-size="9.4" dy="-4.0">+</tspan><tspan dy="4.0"> DP</tspan></text>
<text x="793" y="366.7" font-size="13.6" font-weight="bold" text-anchor="middle" fill="#000" stroke="#000" stroke-width="0.2">CD4<tspan font-size="9.4" dy="-4.0">+</tspan><tspan dy="4.0">CD8</tspan><tspan font-size="9.4" dy="-4.0">+</tspan><tspan dy="4.0"> DP</tspan></text>
<text transform="translate(22.5,99.8) rotate(-90)" x="0" y="0" font-size="14.8" textLength="76.6" lengthAdjust="spacingAndGlyphs" text-anchor="middle" fill="#111" stroke="#111" stroke-width="0.3">Indo-1 Ratio</text>
<text transform="translate(39.0,100.3) rotate(-90)" x="0" y="0" font-size="14.8" textLength="99.6" lengthAdjust="spacingAndGlyphs" text-anchor="middle" fill="#111" stroke="#111" stroke-width="0.3">400 nm/ 475 nm</text>
<text transform="translate(22.5,266.45) rotate(-90)" x="0" y="0" font-size="14.8" textLength="76.6" lengthAdjust="spacingAndGlyphs" text-anchor="middle" fill="#111" stroke="#111" stroke-width="0.3">Indo-1 Ratio</text>
<text transform="translate(39.0,265.85) rotate(-90)" x="0" y="0" font-size="14.8" textLength="99.6" lengthAdjust="spacingAndGlyphs" text-anchor="middle" fill="#111" stroke="#111" stroke-width="0.3">400 nm/ 475 nm</text>
<text transform="translate(22.5,428.3) rotate(-90)" x="0" y="0" font-size="14.8" textLength="76.6" lengthAdjust="spacingAndGlyphs" text-anchor="middle" fill="#111" stroke="#111" stroke-width="0.3">Indo-1 Ratio</text>
<text transform="translate(39.0,428.9) rotate(-90)" x="0" y="0" font-size="14.8" textLength="99.6" lengthAdjust="spacingAndGlyphs" text-anchor="middle" fill="#111" stroke="#111" stroke-width="0.3">400 nm/ 475 nm</text>
</svg>
</body></html>
